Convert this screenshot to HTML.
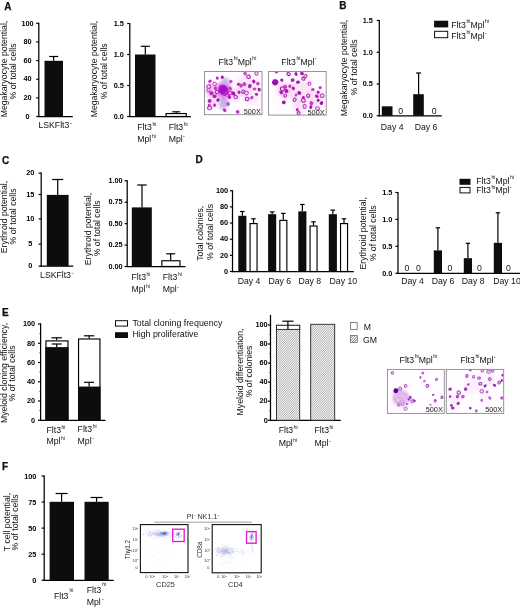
<!DOCTYPE html>
<html><head><meta charset="utf-8"><title>Figure</title>
<style>
html,body{margin:0;padding:0;background:#fff;}
svg{display:block;font-family:"Liberation Sans",Arial,sans-serif;}
</style></head><body>
<svg width="520" height="608" viewBox="0 0 520 608">
<defs>
<pattern id="hatch" width="1.45" height="1.45" patternUnits="userSpaceOnUse" patternTransform="rotate(33)">
<rect width="1.45" height="1.45" fill="#fff"/><line x1="0.4" y1="0" x2="0.4" y2="1.45" stroke="#555" stroke-width="0.5"/></pattern>
<filter id="bl1" x="-5%" y="-5%" width="110%" height="110%"><feGaussianBlur stdDeviation="0.45"/></filter>
<filter id="bl2" x="-10%" y="-10%" width="120%" height="120%"><feGaussianBlur stdDeviation="1.6"/></filter>
</defs>
<rect width="520" height="608" fill="#fff"/>
<text x="4.30" y="10.30" font-size="10" text-anchor="start" font-weight="bold" fill="#111" stroke="#111" stroke-width="0.25">A</text>
<text x="339.30" y="9.30" font-size="10" text-anchor="start" font-weight="bold" fill="#111" stroke="#111" stroke-width="0.25">B</text>
<text x="2.00" y="164.00" font-size="10" text-anchor="start" font-weight="bold" fill="#111" stroke="#111" stroke-width="0.25">C</text>
<text x="195.60" y="163.20" font-size="10" text-anchor="start" font-weight="bold" fill="#111" stroke="#111" stroke-width="0.25">D</text>
<text x="2.00" y="315.80" font-size="10" text-anchor="start" font-weight="bold" fill="#111" stroke="#111" stroke-width="0.25">E</text>
<text x="2.00" y="469.80" font-size="10" text-anchor="start" font-weight="bold" fill="#111" stroke="#111" stroke-width="0.25">F</text>
<line x1="38.80" y1="22.70" x2="38.80" y2="117.10" stroke="#000" stroke-width="1.25"/>
<line x1="38.20" y1="116.50" x2="72.80" y2="116.50" stroke="#000" stroke-width="1.25"/>
<line x1="36.20" y1="23.30" x2="38.80" y2="23.30" stroke="#000" stroke-width="1.2"/>
<text x="27.50" y="25.55" font-size="7.3" text-anchor="middle" font-weight="bold" fill="#000">100</text>
<line x1="36.20" y1="41.94" x2="38.80" y2="41.94" stroke="#000" stroke-width="1.2"/>
<text x="27.50" y="44.19" font-size="7.3" text-anchor="middle" font-weight="bold" fill="#000">80</text>
<line x1="36.20" y1="60.58" x2="38.80" y2="60.58" stroke="#000" stroke-width="1.2"/>
<text x="27.50" y="62.83" font-size="7.3" text-anchor="middle" font-weight="bold" fill="#000">60</text>
<line x1="36.20" y1="79.22" x2="38.80" y2="79.22" stroke="#000" stroke-width="1.2"/>
<text x="27.50" y="81.47" font-size="7.3" text-anchor="middle" font-weight="bold" fill="#000">40</text>
<line x1="36.20" y1="97.86" x2="38.80" y2="97.86" stroke="#000" stroke-width="1.2"/>
<text x="27.50" y="100.11" font-size="7.3" text-anchor="middle" font-weight="bold" fill="#000">20</text>
<line x1="36.20" y1="116.50" x2="38.80" y2="116.50" stroke="#000" stroke-width="1.2"/>
<text x="27.50" y="118.75" font-size="7.3" text-anchor="middle" font-weight="bold" fill="#000">0</text>
<rect x="44.50" y="60.80" width="18.50" height="55.70" fill="#0d0d0d" stroke="none" stroke-width="1"/>
<line x1="53.70" y1="60.80" x2="53.70" y2="56.50" stroke="#000" stroke-width="1.2"/>
<line x1="49.20" y1="56.50" x2="58.20" y2="56.50" stroke="#000" stroke-width="1.2"/>
<text x="55.20" y="128.00" font-size="8.7" text-anchor="middle" fill="#111">LSKFlt3<tspan font-size="6" dy="-3" dx="0.6">-</tspan></text>
<text transform="translate(7.30,69.00) rotate(-90)" font-size="8.7" text-anchor="middle" fill="#111">Megakaryocyte potential,</text>
<text transform="translate(16.30,71.50) rotate(-90)" font-size="8.7" text-anchor="middle" fill="#111">% of total cells</text>
<line x1="129.80" y1="22.90" x2="129.80" y2="117.10" stroke="#000" stroke-width="1.25"/>
<line x1="129.20" y1="116.50" x2="191.00" y2="116.50" stroke="#000" stroke-width="1.25"/>
<line x1="127.20" y1="23.50" x2="129.80" y2="23.50" stroke="#000" stroke-width="1.2"/>
<text x="123.80" y="25.75" font-size="7.3" text-anchor="end" font-weight="bold" fill="#000">1.5</text>
<line x1="127.20" y1="54.50" x2="129.80" y2="54.50" stroke="#000" stroke-width="1.2"/>
<text x="123.80" y="56.75" font-size="7.3" text-anchor="end" font-weight="bold" fill="#000">1.0</text>
<line x1="127.20" y1="85.50" x2="129.80" y2="85.50" stroke="#000" stroke-width="1.2"/>
<text x="123.80" y="87.75" font-size="7.3" text-anchor="end" font-weight="bold" fill="#000">0.5</text>
<line x1="127.20" y1="116.50" x2="129.80" y2="116.50" stroke="#000" stroke-width="1.2"/>
<text x="123.80" y="118.75" font-size="7.3" text-anchor="end" font-weight="bold" fill="#000">0.0</text>
<rect x="135.00" y="54.50" width="20.50" height="62.00" fill="#0d0d0d" stroke="none" stroke-width="1"/>
<line x1="145.30" y1="54.50" x2="145.30" y2="46.30" stroke="#000" stroke-width="1.2"/>
<line x1="140.80" y1="46.30" x2="149.80" y2="46.30" stroke="#000" stroke-width="1.2"/>
<rect x="166.05" y="113.55" width="20.20" height="2.95" fill="#fff" stroke="#000" stroke-width="1.15"/>
<line x1="176.20" y1="113.00" x2="176.20" y2="111.80" stroke="#000" stroke-width="1.2"/>
<line x1="172.20" y1="111.80" x2="180.20" y2="111.80" stroke="#000" stroke-width="1.2"/>
<text x="137.30" y="129.80" font-size="8.7" text-anchor="start" fill="#111">Flt3<tspan font-size="5.0" dy="-3.9" dx="0.6">hi</tspan></text>
<text x="137.30" y="142.00" font-size="8.7" text-anchor="start" fill="#111">Mpl<tspan font-size="5.0" dy="-3.9" dx="0.6">hi</tspan></text>
<text x="168.70" y="129.80" font-size="8.7" text-anchor="start" fill="#111">Flt3<tspan font-size="5.0" dy="-3.9" dx="0.6">hi</tspan></text>
<text x="168.70" y="142.00" font-size="8.7" text-anchor="start" fill="#111">Mpl<tspan font-size="5.5" dy="-3.6" dx="0.3">-</tspan></text>
<text transform="translate(97.30,69.00) rotate(-90)" font-size="8.7" text-anchor="middle" fill="#111">Megakaryocyte potential,</text>
<text transform="translate(107.30,71.30) rotate(-90)" font-size="8.7" text-anchor="middle" fill="#111">% of total cells</text>
<line x1="379.30" y1="19.90" x2="379.30" y2="116.35" stroke="#000" stroke-width="1.25"/>
<line x1="378.70" y1="115.75" x2="441.80" y2="115.75" stroke="#000" stroke-width="1.25"/>
<line x1="376.70" y1="20.50" x2="379.30" y2="20.50" stroke="#000" stroke-width="1.2"/>
<text x="372.80" y="22.75" font-size="7.3" text-anchor="end" font-weight="bold" fill="#000">1.5</text>
<line x1="376.70" y1="52.25" x2="379.30" y2="52.25" stroke="#000" stroke-width="1.2"/>
<text x="372.80" y="54.50" font-size="7.3" text-anchor="end" font-weight="bold" fill="#000">1.0</text>
<line x1="376.70" y1="84.00" x2="379.30" y2="84.00" stroke="#000" stroke-width="1.2"/>
<text x="372.80" y="86.25" font-size="7.3" text-anchor="end" font-weight="bold" fill="#000">0.5</text>
<line x1="376.70" y1="115.75" x2="379.30" y2="115.75" stroke="#000" stroke-width="1.2"/>
<text x="372.80" y="118.00" font-size="7.3" text-anchor="end" font-weight="bold" fill="#000">0.0</text>
<rect x="381.80" y="106.30" width="10.70" height="9.45" fill="#0d0d0d" stroke="none" stroke-width="1"/>
<rect x="413.20" y="94.20" width="10.60" height="21.55" fill="#0d0d0d" stroke="none" stroke-width="1"/>
<line x1="418.60" y1="94.20" x2="418.60" y2="73.00" stroke="#000" stroke-width="1.2"/>
<line x1="416.10" y1="73.00" x2="421.10" y2="73.00" stroke="#000" stroke-width="1.2"/>
<text x="400.70" y="113.80" font-size="8.7" text-anchor="middle" fill="#111">0</text>
<text x="434.20" y="113.80" font-size="8.7" text-anchor="middle" fill="#111">0</text>
<text x="392.20" y="129.80" font-size="8.7" text-anchor="middle" fill="#111">Day 4</text>
<text x="426.00" y="129.80" font-size="8.7" text-anchor="middle" fill="#111">Day 6</text>
<text transform="translate(347.30,68.00) rotate(-90)" font-size="8.7" text-anchor="middle" fill="#111">Megakaryocyte potential,</text>
<text transform="translate(356.80,67.50) rotate(-90)" font-size="8.7" text-anchor="middle" fill="#111">% of total cells</text>
<rect x="434.10" y="20.70" width="14.10" height="6.70" fill="#0d0d0d" stroke="none" stroke-width="1"/>
<rect x="434.60" y="31.30" width="13.10" height="6.40" fill="#fff" stroke="#0d0d0d" stroke-width="1"/>
<text x="451.30" y="27.60" font-size="8.7" text-anchor="start" fill="#111">Flt3<tspan font-size="5.2" dy="-4.7" dx="0.6">hi</tspan><tspan dy="4.7">Mpl</tspan><tspan font-size="5.2" dy="-4.7" dx="0.6">hi</tspan></text>
<text x="451.30" y="39.00" font-size="8.7" text-anchor="start" fill="#111">Flt3<tspan font-size="5.2" dy="-4.7" dx="0.6">hi</tspan><tspan dy="4.7">Mpl</tspan><tspan font-size="5.5" dy="-4.4" dx="0.3">-</tspan></text>
<clipPath id="c204_71"><rect x="204.5" y="71.5" width="57.5" height="43.2"/></clipPath>
<g clip-path="url(#c204_71)">
<rect x="204.50" y="71.50" width="57.50" height="43.20" fill="#fffbff" stroke="none" stroke-width="1"/>
<g filter="url(#bl2)">
<circle cx="223.5" cy="90.5" r="8.5" fill="#dd6fe2" opacity="0.85"/>
<circle cx="225.4" cy="81.6" r="4" fill="#c3aeea" opacity="0.85"/>
<circle cx="224.0" cy="103.0" r="5" fill="#bda6e8" opacity="0.95"/>
<circle cx="222.5" cy="106.0" r="3.5" fill="#c9b6ee" opacity="0.8"/>
<circle cx="213.0" cy="92.0" r="7" fill="#efa6ea" opacity="0.6"/>
<circle cx="212.0" cy="104.0" r="5" fill="#f2b9ee" opacity="0.55"/>
<circle cx="245.0" cy="87.0" r="10" fill="#f8d3f4" opacity="0.5"/>
<circle cx="252.0" cy="97.0" r="8" fill="#fadcf7" opacity="0.5"/>
<circle cx="236.0" cy="95.0" r="6" fill="#f4c2ef" opacity="0.5"/>
</g><g filter="url(#bl1)">
<ellipse cx="210.0" cy="81.2" rx="1.90" ry="1.51" transform="rotate(150 210.0 81.2)" fill="#c030c8"/>
<ellipse cx="217.3" cy="78.1" rx="1.70" ry="1.28" transform="rotate(72 217.3 78.1)" fill="#b41ebe"/>
<ellipse cx="222.3" cy="77.3" rx="1.70" ry="1.50" transform="rotate(107 222.3 77.3)" fill="#a418b0"/>
<ellipse cx="208.8" cy="86.6" rx="2.10" ry="1.87" transform="rotate(156 208.8 86.6)" fill="#f3cdf1" stroke="#c030c8" stroke-width="1"/>
<ellipse cx="214.6" cy="83.9" rx="1.90" ry="1.75" transform="rotate(32 214.6 83.9)" fill="#f3cdf1" stroke="#c845cf" stroke-width="1"/>
<ellipse cx="208.4" cy="90.1" rx="1.70" ry="1.68" transform="rotate(131 208.4 90.1)" fill="#f3cdf1" stroke="#c845cf" stroke-width="1"/>
<ellipse cx="211.5" cy="93.2" rx="2.10" ry="1.93" transform="rotate(167 211.5 93.2)" fill="#b41ebe"/>
<ellipse cx="214.6" cy="96.3" rx="2.10" ry="1.81" transform="rotate(13 214.6 96.3)" fill="#b41ebe"/>
<ellipse cx="209.6" cy="100.9" rx="1.90" ry="1.80" transform="rotate(174 209.6 100.9)" fill="#b41ebe"/>
<ellipse cx="209.2" cy="105.5" rx="1.70" ry="1.44" transform="rotate(100 209.2 105.5)" fill="#c030c8"/>
<ellipse cx="214.6" cy="105.2" rx="1.70" ry="1.32" transform="rotate(100 214.6 105.2)" fill="#b41ebe"/>
<ellipse cx="209.6" cy="107.9" rx="2.10" ry="1.79" transform="rotate(162 209.6 107.9)" fill="#f3cdf1" stroke="#c030c8" stroke-width="1"/>
<ellipse cx="224.6" cy="110.2" rx="2.10" ry="1.61" transform="rotate(48 224.6 110.2)" fill="#c030c8"/>
<ellipse cx="229.3" cy="97.0" rx="2.10" ry="1.81" transform="rotate(53 229.3 97.0)" fill="#b41ebe"/>
<ellipse cx="233.1" cy="93.2" rx="2.10" ry="1.75" transform="rotate(28 233.1 93.2)" fill="#c030c8"/>
<ellipse cx="230.0" cy="88.5" rx="2.10" ry="1.63" transform="rotate(13 230.0 88.5)" fill="#c845cf"/>
<ellipse cx="230.8" cy="81.6" rx="1.90" ry="1.50" transform="rotate(145 230.8 81.6)" fill="#c845cf"/>
<ellipse cx="215.4" cy="88.2" rx="1.70" ry="1.68" transform="rotate(25 215.4 88.2)" fill="#c030c8"/>
<ellipse cx="238.4" cy="84.2" rx="1.70" ry="1.29" transform="rotate(157 238.4 84.2)" fill="#b41ebe"/>
<ellipse cx="241.0" cy="85.6" rx="2.10" ry="1.90" transform="rotate(53 241.0 85.6)" fill="#c845cf"/>
<ellipse cx="244.4" cy="84.2" rx="2.10" ry="1.91" transform="rotate(38 244.4 84.2)" fill="#c845cf"/>
<ellipse cx="239.0" cy="92.3" rx="1.70" ry="1.53" transform="rotate(88 239.0 92.3)" fill="#b41ebe"/>
<ellipse cx="243.1" cy="91.6" rx="1.70" ry="1.33" transform="rotate(121 243.1 91.6)" fill="#f3cdf1" stroke="#a418b0" stroke-width="1"/>
<ellipse cx="246.4" cy="93.0" rx="1.90" ry="1.90" transform="rotate(124 246.4 93.0)" fill="#f3cdf1" stroke="#c845cf" stroke-width="1"/>
<ellipse cx="249.8" cy="86.2" rx="2.10" ry="1.83" transform="rotate(119 249.8 86.2)" fill="#b41ebe"/>
<ellipse cx="253.8" cy="81.5" rx="2.10" ry="1.62" transform="rotate(79 253.8 81.5)" fill="#a418b0"/>
<ellipse cx="257.9" cy="83.6" rx="1.90" ry="1.78" transform="rotate(26 257.9 83.6)" fill="#c845cf"/>
<ellipse cx="259.2" cy="89.6" rx="1.90" ry="1.65" transform="rotate(67 259.2 89.6)" fill="#b41ebe"/>
<ellipse cx="254.5" cy="88.9" rx="1.90" ry="1.50" transform="rotate(177 254.5 88.9)" fill="#c845cf"/>
<ellipse cx="256.5" cy="94.3" rx="1.70" ry="1.36" transform="rotate(5 256.5 94.3)" fill="#b41ebe"/>
<ellipse cx="251.8" cy="97.7" rx="1.90" ry="1.60" transform="rotate(135 251.8 97.7)" fill="#c845cf"/>
<ellipse cx="247.1" cy="99.0" rx="1.90" ry="1.68" transform="rotate(176 247.1 99.0)" fill="#f3cdf1" stroke="#a418b0" stroke-width="1"/>
<ellipse cx="248.5" cy="76.8" rx="1.90" ry="1.79" transform="rotate(6 248.5 76.8)" fill="#f3cdf1" stroke="#a418b0" stroke-width="1"/>
<ellipse cx="256.5" cy="73.5" rx="1.70" ry="1.69" transform="rotate(76 256.5 73.5)" fill="#f3cdf1" stroke="#c845cf" stroke-width="1"/>
<ellipse cx="237.7" cy="111.8" rx="1.90" ry="1.76" transform="rotate(23 237.7 111.8)" fill="#c030c8"/>
<ellipse cx="245.1" cy="73.5" rx="1.90" ry="1.67" transform="rotate(66 245.1 73.5)" fill="#c845cf"/>
<ellipse cx="235.7" cy="97.0" rx="1.90" ry="1.59" transform="rotate(42 235.7 97.0)" fill="#f3cdf1" stroke="#b41ebe" stroke-width="1"/>
<ellipse cx="233.6" cy="93.6" rx="1.90" ry="1.68" transform="rotate(57 233.6 93.6)" fill="#a418b0"/>
<ellipse cx="218.0" cy="100.0" rx="1.90" ry="1.58" transform="rotate(128 218.0 100.0)" fill="#a418b0"/>
<ellipse cx="228.0" cy="104.0" rx="1.90" ry="1.72" transform="rotate(57 228.0 104.0)" fill="#c845cf"/>
<ellipse cx="217.0" cy="92.0" rx="1.70" ry="1.62" transform="rotate(49 217.0 92.0)" fill="#f3cdf1" stroke="#b41ebe" stroke-width="1"/>
<ellipse cx="230.0" cy="93.0" rx="1.70" ry="1.59" transform="rotate(102 230.0 93.0)" fill="#f3cdf1" stroke="#c030c8" stroke-width="1"/>
<ellipse cx="223.5" cy="90.2" rx="6.00" ry="4.80" transform="rotate(58 223.5 90.2)" fill="#c024d2"/>
<ellipse cx="222.9" cy="89.8" rx="4.00" ry="3.36" transform="rotate(126 222.9 89.8)" fill="#a012c0"/>
</g></g>
<rect x="204.50" y="71.50" width="57.50" height="43.20" fill="none" stroke="#8a8a8a" stroke-width="0.9"/>
<text x="260.80" y="113.70" font-size="7.3" text-anchor="end" fill="#222">500X</text>
<clipPath id="c268_71"><rect x="268.4" y="71.5" width="57.8" height="43.6"/></clipPath>
<g clip-path="url(#c268_71)">
<rect x="268.40" y="71.50" width="57.80" height="43.60" fill="#fffcff" stroke="none" stroke-width="1"/>
<g filter="url(#bl2)">
<circle cx="300.0" cy="92.0" r="12" fill="#f8d3f4" opacity="0.55"/>
<circle cx="285.0" cy="90.0" r="8" fill="#f3bdee" opacity="0.5"/>
<circle cx="315.0" cy="98.0" r="8" fill="#f6c9f2" opacity="0.55"/>
<circle cx="300.0" cy="106.0" r="7" fill="#f5c4f1" opacity="0.45"/>
<circle cx="283.0" cy="92.0" r="5" fill="#efaaea" opacity="0.4"/>
</g><g filter="url(#bl1)">
<ellipse cx="276.4" cy="71.8" rx="1.60" ry="1.55" transform="rotate(27 276.4 71.8)" fill="#b41ebe"/>
<ellipse cx="288.6" cy="74.1" rx="1.80" ry="1.46" transform="rotate(14 288.6 74.1)" fill="#f3cdf1" stroke="#a818b2" stroke-width="1"/>
<ellipse cx="296.0" cy="74.1" rx="2.00" ry="1.52" transform="rotate(70 296.0 74.1)" fill="#a818b2"/>
<ellipse cx="302.0" cy="73.5" rx="2.00" ry="1.75" transform="rotate(25 302.0 73.5)" fill="#a818b2"/>
<ellipse cx="305.4" cy="76.2" rx="1.80" ry="1.36" transform="rotate(143 305.4 76.2)" fill="#f3cdf1" stroke="#b41ebe" stroke-width="1"/>
<ellipse cx="303.4" cy="78.8" rx="1.60" ry="1.38" transform="rotate(16 303.4 78.8)" fill="#f3cdf1" stroke="#a818b2" stroke-width="1"/>
<ellipse cx="281.8" cy="80.2" rx="1.60" ry="1.59" transform="rotate(156 281.8 80.2)" fill="#a818b2"/>
<ellipse cx="292.6" cy="80.2" rx="2.00" ry="1.76" transform="rotate(155 292.6 80.2)" fill="#b41ebe"/>
<ellipse cx="298.0" cy="82.2" rx="2.00" ry="1.64" transform="rotate(177 298.0 82.2)" fill="#a818b2"/>
<ellipse cx="309.4" cy="83.6" rx="1.60" ry="1.41" transform="rotate(130 309.4 83.6)" fill="#f3cdf1" stroke="#c238c8" stroke-width="1"/>
<ellipse cx="289.9" cy="86.2" rx="1.80" ry="1.58" transform="rotate(122 289.9 86.2)" fill="#c238c8"/>
<ellipse cx="293.3" cy="88.3" rx="1.80" ry="1.66" transform="rotate(63 293.3 88.3)" fill="#b41ebe"/>
<ellipse cx="282.5" cy="88.9" rx="2.00" ry="1.96" transform="rotate(66 282.5 88.9)" fill="#f3cdf1" stroke="#a818b2" stroke-width="1"/>
<ellipse cx="286.5" cy="91.0" rx="2.00" ry="1.92" transform="rotate(51 286.5 91.0)" fill="#a818b2"/>
<ellipse cx="281.2" cy="92.3" rx="2.00" ry="1.71" transform="rotate(35 281.2 92.3)" fill="#b41ebe"/>
<ellipse cx="285.2" cy="95.7" rx="1.60" ry="1.38" transform="rotate(100 285.2 95.7)" fill="#f3cdf1" stroke="#b41ebe" stroke-width="1"/>
<ellipse cx="299.3" cy="93.0" rx="2.00" ry="1.84" transform="rotate(18 299.3 93.0)" fill="#a818b2"/>
<ellipse cx="296.0" cy="95.0" rx="1.60" ry="1.23" transform="rotate(109 296.0 95.0)" fill="#c238c8"/>
<ellipse cx="312.8" cy="89.6" rx="1.80" ry="1.49" transform="rotate(171 312.8 89.6)" fill="#c238c8"/>
<ellipse cx="320.2" cy="87.6" rx="1.60" ry="1.56" transform="rotate(31 320.2 87.6)" fill="#c238c8"/>
<ellipse cx="318.2" cy="92.3" rx="1.60" ry="1.58" transform="rotate(39 318.2 92.3)" fill="#b41ebe"/>
<ellipse cx="322.2" cy="95.7" rx="2.00" ry="1.83" transform="rotate(164 322.2 95.7)" fill="#f3cdf1" stroke="#c238c8" stroke-width="1"/>
<ellipse cx="316.8" cy="96.3" rx="2.00" ry="1.63" transform="rotate(36 316.8 96.3)" fill="#b41ebe"/>
<ellipse cx="308.1" cy="95.7" rx="1.60" ry="1.59" transform="rotate(35 308.1 95.7)" fill="#f3cdf1" stroke="#b41ebe" stroke-width="1"/>
<ellipse cx="303.4" cy="97.7" rx="1.60" ry="1.50" transform="rotate(56 303.4 97.7)" fill="#a818b2"/>
<ellipse cx="303.4" cy="100.4" rx="2.00" ry="1.70" transform="rotate(24 303.4 100.4)" fill="#f3cdf1" stroke="#a818b2" stroke-width="1"/>
<ellipse cx="294.6" cy="99.7" rx="1.80" ry="1.42" transform="rotate(124 294.6 99.7)" fill="#f3cdf1" stroke="#b41ebe" stroke-width="1"/>
<ellipse cx="283.8" cy="102.4" rx="2.00" ry="1.92" transform="rotate(170 283.8 102.4)" fill="#a818b2"/>
<ellipse cx="311.4" cy="103.1" rx="2.00" ry="1.85" transform="rotate(41 311.4 103.1)" fill="#c238c8"/>
<ellipse cx="321.5" cy="103.1" rx="2.00" ry="1.70" transform="rotate(131 321.5 103.1)" fill="#a818b2"/>
<ellipse cx="310.8" cy="107.1" rx="2.00" ry="1.60" transform="rotate(107 310.8 107.1)" fill="#b41ebe"/>
<ellipse cx="304.7" cy="106.4" rx="2.00" ry="1.55" transform="rotate(81 304.7 106.4)" fill="#f3cdf1" stroke="#c238c8" stroke-width="1"/>
<ellipse cx="297.3" cy="109.8" rx="1.80" ry="1.36" transform="rotate(93 297.3 109.8)" fill="#b41ebe"/>
<ellipse cx="298.6" cy="113.2" rx="1.60" ry="1.38" transform="rotate(141 298.6 113.2)" fill="#f3cdf1" stroke="#b41ebe" stroke-width="1"/>
<ellipse cx="317.5" cy="108.5" rx="2.00" ry="1.69" transform="rotate(4 317.5 108.5)" fill="#f3cdf1" stroke="#c238c8" stroke-width="1"/>
<ellipse cx="318.2" cy="100.4" rx="1.60" ry="1.45" transform="rotate(132 318.2 100.4)" fill="#a818b2"/>
<ellipse cx="285.2" cy="86.9" rx="2.00" ry="1.98" transform="rotate(131 285.2 86.9)" fill="#c238c8"/>
<ellipse cx="275.2" cy="82.3" rx="3.10" ry="3.09" transform="rotate(28 275.2 82.3)" fill="#a010b4"/>
</g></g>
<rect x="268.40" y="71.50" width="57.80" height="43.60" fill="none" stroke="#8a8a8a" stroke-width="0.9"/>
<text x="324.60" y="114.60" font-size="7.3" text-anchor="end" fill="#222">500X</text>
<text x="237.50" y="64.60" font-size="8.7" text-anchor="middle" fill="#111">Flt3<tspan font-size="5.2" dy="-4.4" dx="0.6">hi</tspan><tspan dy="4.4">Mpl</tspan><tspan font-size="5.2" dy="-4.4" dx="0.6">hi</tspan></text>
<text x="299.00" y="64.60" font-size="8.7" text-anchor="middle" fill="#111">Flt3<tspan font-size="5.2" dy="-4.4" dx="0.6">hi</tspan><tspan dy="4.4">Mpl</tspan><tspan font-size="5.5" dy="-4.2" dx="0.3">-</tspan></text>
<line x1="41.20" y1="172.50" x2="41.20" y2="266.80" stroke="#000" stroke-width="1.25"/>
<line x1="40.60" y1="266.20" x2="73.30" y2="266.20" stroke="#000" stroke-width="1.25"/>
<line x1="38.60" y1="173.10" x2="41.20" y2="173.10" stroke="#000" stroke-width="1.2"/>
<text x="30.20" y="175.35" font-size="7.3" text-anchor="middle" font-weight="bold" fill="#000">20</text>
<line x1="38.60" y1="194.50" x2="41.20" y2="194.50" stroke="#000" stroke-width="1.2"/>
<text x="30.20" y="196.75" font-size="7.3" text-anchor="middle" font-weight="bold" fill="#000">15</text>
<line x1="38.60" y1="218.90" x2="41.20" y2="218.90" stroke="#000" stroke-width="1.2"/>
<text x="30.20" y="221.15" font-size="7.3" text-anchor="middle" font-weight="bold" fill="#000">10</text>
<line x1="38.60" y1="244.20" x2="41.20" y2="244.20" stroke="#000" stroke-width="1.2"/>
<text x="30.20" y="246.45" font-size="7.3" text-anchor="middle" font-weight="bold" fill="#000">5</text>
<line x1="38.60" y1="266.20" x2="41.20" y2="266.20" stroke="#000" stroke-width="1.2"/>
<text x="30.20" y="268.45" font-size="7.3" text-anchor="middle" font-weight="bold" fill="#000">0</text>
<rect x="46.80" y="194.90" width="21.80" height="71.30" fill="#0d0d0d" stroke="none" stroke-width="1"/>
<line x1="57.70" y1="194.90" x2="57.70" y2="179.50" stroke="#000" stroke-width="1.2"/>
<line x1="52.20" y1="179.50" x2="63.20" y2="179.50" stroke="#000" stroke-width="1.2"/>
<text x="56.80" y="278.20" font-size="8.7" text-anchor="middle" fill="#111">LSKFlt3<tspan font-size="6" dy="-3" dx="0.6">-</tspan></text>
<text transform="translate(7.00,217.00) rotate(-90)" font-size="8.7" text-anchor="middle" fill="#111">Erythroid potential,</text>
<text transform="translate(16.20,216.50) rotate(-90)" font-size="8.7" text-anchor="middle" fill="#111">% of total cells</text>
<line x1="127.20" y1="180.20" x2="127.20" y2="267.10" stroke="#000" stroke-width="1.25"/>
<line x1="126.60" y1="266.50" x2="185.50" y2="266.50" stroke="#000" stroke-width="1.25"/>
<line x1="124.60" y1="180.80" x2="127.20" y2="180.80" stroke="#000" stroke-width="1.2"/>
<text x="122.60" y="183.05" font-size="7.3" text-anchor="end" font-weight="bold" fill="#000">1.00</text>
<line x1="124.60" y1="202.23" x2="127.20" y2="202.23" stroke="#000" stroke-width="1.2"/>
<text x="122.60" y="204.48" font-size="7.3" text-anchor="end" font-weight="bold" fill="#000">0.75</text>
<line x1="124.60" y1="223.66" x2="127.20" y2="223.66" stroke="#000" stroke-width="1.2"/>
<text x="122.60" y="225.91" font-size="7.3" text-anchor="end" font-weight="bold" fill="#000">0.50</text>
<line x1="124.60" y1="245.09" x2="127.20" y2="245.09" stroke="#000" stroke-width="1.2"/>
<text x="122.60" y="247.34" font-size="7.3" text-anchor="end" font-weight="bold" fill="#000">0.25</text>
<line x1="124.60" y1="266.52" x2="127.20" y2="266.52" stroke="#000" stroke-width="1.2"/>
<text x="122.60" y="268.77" font-size="7.3" text-anchor="end" font-weight="bold" fill="#000">0.00</text>
<rect x="131.80" y="207.40" width="20.00" height="59.10" fill="#0d0d0d" stroke="none" stroke-width="1"/>
<line x1="142.00" y1="207.40" x2="142.00" y2="185.00" stroke="#000" stroke-width="1.2"/>
<line x1="137.25" y1="185.00" x2="146.75" y2="185.00" stroke="#000" stroke-width="1.2"/>
<rect x="161.85" y="260.75" width="18.10" height="5.75" fill="#fff" stroke="#000" stroke-width="1.15"/>
<line x1="170.70" y1="260.20" x2="170.70" y2="253.80" stroke="#000" stroke-width="1.2"/>
<line x1="166.20" y1="253.80" x2="175.20" y2="253.80" stroke="#000" stroke-width="1.2"/>
<text x="131.50" y="279.90" font-size="8.7" text-anchor="start" fill="#111">Flt3<tspan font-size="5.0" dy="-3.9" dx="0.6">hi</tspan></text>
<text x="131.50" y="292.10" font-size="8.7" text-anchor="start" fill="#111">Mpl<tspan font-size="5.0" dy="-3.9" dx="0.6">hi</tspan></text>
<text x="162.80" y="279.90" font-size="8.7" text-anchor="start" fill="#111">Flt3<tspan font-size="5.0" dy="-3.9" dx="0.6">hi</tspan></text>
<text x="162.80" y="292.10" font-size="8.7" text-anchor="start" fill="#111">Mpl<tspan font-size="5.5" dy="-3.6" dx="0.3">-</tspan></text>
<text transform="translate(91.20,229.00) rotate(-90)" font-size="8.7" text-anchor="middle" fill="#111">Erythroid potential,</text>
<text transform="translate(100.30,228.30) rotate(-90)" font-size="8.7" text-anchor="middle" fill="#111">% of total cells</text>
<line x1="232.50" y1="190.15" x2="232.50" y2="272.10" stroke="#000" stroke-width="1.25"/>
<line x1="231.90" y1="271.50" x2="353.80" y2="271.50" stroke="#000" stroke-width="1.25"/>
<line x1="229.90" y1="190.75" x2="232.50" y2="190.75" stroke="#000" stroke-width="1.2"/>
<text x="228.10" y="193.00" font-size="7.3" text-anchor="end" font-weight="bold" fill="#000">100</text>
<line x1="229.90" y1="206.90" x2="232.50" y2="206.90" stroke="#000" stroke-width="1.2"/>
<text x="228.10" y="209.15" font-size="7.3" text-anchor="end" font-weight="bold" fill="#000">80</text>
<line x1="229.90" y1="223.05" x2="232.50" y2="223.05" stroke="#000" stroke-width="1.2"/>
<text x="228.10" y="225.30" font-size="7.3" text-anchor="end" font-weight="bold" fill="#000">60</text>
<line x1="229.90" y1="239.20" x2="232.50" y2="239.20" stroke="#000" stroke-width="1.2"/>
<text x="228.10" y="241.45" font-size="7.3" text-anchor="end" font-weight="bold" fill="#000">40</text>
<line x1="229.90" y1="255.35" x2="232.50" y2="255.35" stroke="#000" stroke-width="1.2"/>
<text x="228.10" y="257.60" font-size="7.3" text-anchor="end" font-weight="bold" fill="#000">20</text>
<line x1="229.90" y1="271.50" x2="232.50" y2="271.50" stroke="#000" stroke-width="1.2"/>
<text x="228.10" y="273.75" font-size="7.3" text-anchor="end" font-weight="bold" fill="#000">0</text>
<rect x="238.30" y="215.78" width="8.10" height="55.72" fill="#0d0d0d" stroke="none" stroke-width="1"/>
<line x1="242.35" y1="215.78" x2="242.35" y2="211.50" stroke="#000" stroke-width="1.2"/>
<line x1="240.05" y1="211.50" x2="244.65" y2="211.50" stroke="#000" stroke-width="1.2"/>
<rect x="250.05" y="223.60" width="7.00" height="47.90" fill="#fff" stroke="#000" stroke-width="1.15"/>
<line x1="253.50" y1="223.05" x2="253.50" y2="218.77" stroke="#000" stroke-width="1.2"/>
<line x1="251.20" y1="218.77" x2="255.80" y2="218.77" stroke="#000" stroke-width="1.2"/>
<rect x="268.10" y="214.17" width="8.10" height="57.33" fill="#0d0d0d" stroke="none" stroke-width="1"/>
<line x1="272.15" y1="214.17" x2="272.15" y2="211.91" stroke="#000" stroke-width="1.2"/>
<line x1="269.85" y1="211.91" x2="274.45" y2="211.91" stroke="#000" stroke-width="1.2"/>
<rect x="279.85" y="220.37" width="7.00" height="51.13" fill="#fff" stroke="#000" stroke-width="1.15"/>
<line x1="283.30" y1="219.82" x2="283.30" y2="213.36" stroke="#000" stroke-width="1.2"/>
<line x1="281.00" y1="213.36" x2="285.60" y2="213.36" stroke="#000" stroke-width="1.2"/>
<rect x="298.30" y="211.34" width="8.10" height="60.16" fill="#0d0d0d" stroke="none" stroke-width="1"/>
<line x1="302.35" y1="211.34" x2="302.35" y2="204.48" stroke="#000" stroke-width="1.2"/>
<line x1="300.05" y1="204.48" x2="304.65" y2="204.48" stroke="#000" stroke-width="1.2"/>
<rect x="310.05" y="226.02" width="7.00" height="45.48" fill="#fff" stroke="#000" stroke-width="1.15"/>
<line x1="313.50" y1="225.47" x2="313.50" y2="221.84" stroke="#000" stroke-width="1.2"/>
<line x1="311.20" y1="221.84" x2="315.80" y2="221.84" stroke="#000" stroke-width="1.2"/>
<rect x="328.80" y="214.17" width="8.10" height="57.33" fill="#0d0d0d" stroke="none" stroke-width="1"/>
<line x1="332.85" y1="214.17" x2="332.85" y2="210.13" stroke="#000" stroke-width="1.2"/>
<line x1="330.55" y1="210.13" x2="335.15" y2="210.13" stroke="#000" stroke-width="1.2"/>
<rect x="340.55" y="223.60" width="7.00" height="47.90" fill="#fff" stroke="#000" stroke-width="1.15"/>
<line x1="344.00" y1="223.05" x2="344.00" y2="218.77" stroke="#000" stroke-width="1.2"/>
<line x1="341.70" y1="218.77" x2="346.30" y2="218.77" stroke="#000" stroke-width="1.2"/>
<text x="249.00" y="283.60" font-size="8.7" text-anchor="middle" fill="#111">Day 4</text>
<text x="279.80" y="283.60" font-size="8.7" text-anchor="middle" fill="#111">Day 6</text>
<text x="309.80" y="283.60" font-size="8.7" text-anchor="middle" fill="#111">Day 8</text>
<text x="343.30" y="283.60" font-size="8.7" text-anchor="middle" fill="#111">Day 10</text>
<text transform="translate(203.20,233.30) rotate(-90)" font-size="8.7" text-anchor="middle" fill="#111">Total colonies,</text>
<text transform="translate(213.00,232.00) rotate(-90)" font-size="8.7" text-anchor="middle" fill="#111">% of total cells</text>
<line x1="398.00" y1="191.90" x2="398.00" y2="273.85" stroke="#000" stroke-width="1.25"/>
<line x1="397.40" y1="273.25" x2="520.00" y2="273.25" stroke="#000" stroke-width="1.25"/>
<line x1="395.40" y1="192.50" x2="398.00" y2="192.50" stroke="#000" stroke-width="1.2"/>
<text x="392.40" y="194.75" font-size="7.3" text-anchor="end" font-weight="bold" fill="#000">1.5</text>
<line x1="395.40" y1="219.42" x2="398.00" y2="219.42" stroke="#000" stroke-width="1.2"/>
<text x="392.40" y="221.67" font-size="7.3" text-anchor="end" font-weight="bold" fill="#000">1.0</text>
<line x1="395.40" y1="246.34" x2="398.00" y2="246.34" stroke="#000" stroke-width="1.2"/>
<text x="392.40" y="248.59" font-size="7.3" text-anchor="end" font-weight="bold" fill="#000">0.5</text>
<line x1="395.40" y1="273.26" x2="398.00" y2="273.26" stroke="#000" stroke-width="1.2"/>
<text x="392.40" y="275.51" font-size="7.3" text-anchor="end" font-weight="bold" fill="#000">0.0</text>
<rect x="433.80" y="250.40" width="8.20" height="22.85" fill="#0d0d0d" stroke="none" stroke-width="1"/>
<line x1="437.90" y1="250.40" x2="437.90" y2="227.80" stroke="#000" stroke-width="1.2"/>
<line x1="435.70" y1="227.80" x2="440.10" y2="227.80" stroke="#000" stroke-width="1.2"/>
<rect x="463.80" y="258.20" width="8.20" height="15.05" fill="#0d0d0d" stroke="none" stroke-width="1"/>
<line x1="467.90" y1="258.20" x2="467.90" y2="243.30" stroke="#000" stroke-width="1.2"/>
<line x1="465.70" y1="243.30" x2="470.10" y2="243.30" stroke="#000" stroke-width="1.2"/>
<rect x="493.80" y="242.80" width="8.20" height="30.45" fill="#0d0d0d" stroke="none" stroke-width="1"/>
<line x1="497.90" y1="242.80" x2="497.90" y2="212.80" stroke="#000" stroke-width="1.2"/>
<line x1="495.70" y1="212.80" x2="500.10" y2="212.80" stroke="#000" stroke-width="1.2"/>
<text x="406.90" y="271.00" font-size="8.7" text-anchor="middle" fill="#111">0</text>
<text x="418.30" y="271.00" font-size="8.7" text-anchor="middle" fill="#111">0</text>
<text x="450.00" y="271.00" font-size="8.7" text-anchor="middle" fill="#111">0</text>
<text x="479.30" y="271.00" font-size="8.7" text-anchor="middle" fill="#111">0</text>
<text x="508.30" y="271.00" font-size="8.7" text-anchor="middle" fill="#111">0</text>
<text x="412.50" y="284.00" font-size="8.7" text-anchor="middle" fill="#111">Day 4</text>
<text x="443.00" y="284.00" font-size="8.7" text-anchor="middle" fill="#111">Day 6</text>
<text x="473.20" y="284.00" font-size="8.7" text-anchor="middle" fill="#111">Day 8</text>
<text x="507.00" y="284.00" font-size="8.7" text-anchor="middle" fill="#111">Day 10</text>
<text transform="translate(366.40,233.30) rotate(-90)" font-size="8.7" text-anchor="middle" fill="#111">Erythroid potential,</text>
<text transform="translate(375.70,233.30) rotate(-90)" font-size="8.7" text-anchor="middle" fill="#111">% of total cells</text>
<rect x="459.50" y="178.80" width="11.00" height="6.00" fill="#0d0d0d" stroke="none" stroke-width="1"/>
<rect x="460.00" y="187.40" width="10.00" height="5.50" fill="#fff" stroke="#0d0d0d" stroke-width="1"/>
<text x="476.30" y="183.70" font-size="8.7" text-anchor="start" fill="#111">Flt3<tspan font-size="5.2" dy="-4.7" dx="0.6">hi</tspan><tspan dy="4.7">Mpl</tspan><tspan font-size="5.2" dy="-4.7" dx="0.6">hi</tspan></text>
<text x="476.30" y="193.40" font-size="8.7" text-anchor="start" fill="#111">Flt3<tspan font-size="5.2" dy="-4.7" dx="0.6">hi</tspan><tspan dy="4.7">Mpl</tspan><tspan font-size="5.5" dy="-4.4" dx="0.3">-</tspan></text>
<line x1="40.60" y1="323.40" x2="40.60" y2="420.85" stroke="#000" stroke-width="1.25"/>
<line x1="40.00" y1="420.25" x2="105.50" y2="420.25" stroke="#000" stroke-width="1.25"/>
<line x1="38.00" y1="324.00" x2="40.60" y2="324.00" stroke="#000" stroke-width="1.2"/>
<text x="35.10" y="326.25" font-size="7.3" text-anchor="end" font-weight="bold" fill="#000">100</text>
<line x1="38.00" y1="343.25" x2="40.60" y2="343.25" stroke="#000" stroke-width="1.2"/>
<text x="35.10" y="345.50" font-size="7.3" text-anchor="end" font-weight="bold" fill="#000">80</text>
<line x1="38.00" y1="362.50" x2="40.60" y2="362.50" stroke="#000" stroke-width="1.2"/>
<text x="35.10" y="364.75" font-size="7.3" text-anchor="end" font-weight="bold" fill="#000">60</text>
<line x1="38.00" y1="381.75" x2="40.60" y2="381.75" stroke="#000" stroke-width="1.2"/>
<text x="35.10" y="384.00" font-size="7.3" text-anchor="end" font-weight="bold" fill="#000">40</text>
<line x1="38.00" y1="401.00" x2="40.60" y2="401.00" stroke="#000" stroke-width="1.2"/>
<text x="35.10" y="403.25" font-size="7.3" text-anchor="end" font-weight="bold" fill="#000">20</text>
<line x1="38.00" y1="420.25" x2="40.60" y2="420.25" stroke="#000" stroke-width="1.2"/>
<text x="35.10" y="422.50" font-size="7.3" text-anchor="end" font-weight="bold" fill="#000">0</text>
<line x1="39.30" y1="333.62" x2="40.60" y2="333.62" stroke="#333" stroke-width="0.8"/>
<line x1="39.30" y1="352.88" x2="40.60" y2="352.88" stroke="#333" stroke-width="0.8"/>
<line x1="39.30" y1="372.12" x2="40.60" y2="372.12" stroke="#333" stroke-width="0.8"/>
<line x1="39.30" y1="391.38" x2="40.60" y2="391.38" stroke="#333" stroke-width="0.8"/>
<line x1="39.30" y1="410.62" x2="40.60" y2="410.62" stroke="#333" stroke-width="0.8"/>
<rect x="45.95" y="340.91" width="22.00" height="79.34" fill="#fff" stroke="#000" stroke-width="1.15"/>
<rect x="45.40" y="347.10" width="23.10" height="73.15" fill="#0d0d0d" stroke="none" stroke-width="1"/>
<line x1="56.70" y1="340.36" x2="56.70" y2="337.80" stroke="#000" stroke-width="1.2"/>
<line x1="51.45" y1="337.80" x2="61.95" y2="337.80" stroke="#000" stroke-width="1.2"/>
<line x1="56.70" y1="347.10" x2="56.70" y2="344.00" stroke="#000" stroke-width="1.2"/>
<line x1="51.70" y1="344.00" x2="61.70" y2="344.00" stroke="#000" stroke-width="1.2"/>
<rect x="78.55" y="338.99" width="21.40" height="81.26" fill="#fff" stroke="#000" stroke-width="1.15"/>
<rect x="78.00" y="386.56" width="22.50" height="33.69" fill="#0d0d0d" stroke="none" stroke-width="1"/>
<line x1="89.10" y1="338.44" x2="89.10" y2="335.80" stroke="#000" stroke-width="1.2"/>
<line x1="83.85" y1="335.80" x2="94.35" y2="335.80" stroke="#000" stroke-width="1.2"/>
<line x1="89.10" y1="386.56" x2="89.10" y2="382.30" stroke="#000" stroke-width="1.2"/>
<line x1="84.10" y1="382.30" x2="94.10" y2="382.30" stroke="#000" stroke-width="1.2"/>
<text x="46.50" y="432.70" font-size="8.7" text-anchor="start" fill="#111">Flt3<tspan font-size="5.0" dy="-3.9" dx="0.6">hi</tspan></text>
<text x="46.50" y="444.00" font-size="8.7" text-anchor="start" fill="#111">Mpl<tspan font-size="5.0" dy="-3.9" dx="0.6">hi</tspan></text>
<text x="77.60" y="432.30" font-size="8.7" text-anchor="start" fill="#111">Flt3<tspan font-size="5.0" dy="-3.9" dx="0.6">hi</tspan></text>
<text x="77.60" y="443.70" font-size="8.7" text-anchor="start" fill="#111">Mpl<tspan font-size="5.5" dy="-3.6" dx="0.3">-</tspan></text>
<text transform="translate(7.00,373.00) rotate(-90)" font-size="8.7" text-anchor="middle" fill="#111">Myeloid cloning efficiency,</text>
<text transform="translate(15.30,373.50) rotate(-90)" font-size="8.7" text-anchor="middle" fill="#111">% of total cells</text>
<rect x="115.50" y="320.70" width="12.00" height="5.40" fill="#fff" stroke="#0d0d0d" stroke-width="1"/>
<rect x="115.00" y="332.20" width="13.00" height="5.80" fill="#0d0d0d" stroke="none" stroke-width="1"/>
<text x="132.40" y="326.20" font-size="8.8" text-anchor="start" fill="#111">Total cloning frequency</text>
<text x="132.40" y="337.40" font-size="8.8" text-anchor="start" fill="#111">High proliferative</text>
<line x1="270.50" y1="314.85" x2="270.50" y2="420.85" stroke="#000" stroke-width="1.25"/>
<line x1="269.90" y1="420.25" x2="340.80" y2="420.25" stroke="#000" stroke-width="1.25"/>
<line x1="267.90" y1="324.95" x2="270.50" y2="324.95" stroke="#000" stroke-width="1.2"/>
<text x="267.70" y="327.20" font-size="7.3" text-anchor="end" font-weight="bold" fill="#000">100</text>
<line x1="267.90" y1="344.01" x2="270.50" y2="344.01" stroke="#000" stroke-width="1.2"/>
<text x="267.70" y="346.26" font-size="7.3" text-anchor="end" font-weight="bold" fill="#000">80</text>
<line x1="267.90" y1="363.07" x2="270.50" y2="363.07" stroke="#000" stroke-width="1.2"/>
<text x="267.70" y="365.32" font-size="7.3" text-anchor="end" font-weight="bold" fill="#000">60</text>
<line x1="267.90" y1="382.13" x2="270.50" y2="382.13" stroke="#000" stroke-width="1.2"/>
<text x="267.70" y="384.38" font-size="7.3" text-anchor="end" font-weight="bold" fill="#000">40</text>
<line x1="267.90" y1="401.19" x2="270.50" y2="401.19" stroke="#000" stroke-width="1.2"/>
<text x="267.70" y="403.44" font-size="7.3" text-anchor="end" font-weight="bold" fill="#000">20</text>
<line x1="267.90" y1="420.25" x2="270.50" y2="420.25" stroke="#000" stroke-width="1.2"/>
<text x="267.70" y="422.50" font-size="7.3" text-anchor="end" font-weight="bold" fill="#000">0</text>
<line x1="269.20" y1="334.48" x2="270.50" y2="334.48" stroke="#333" stroke-width="0.8"/>
<line x1="269.20" y1="353.54" x2="270.50" y2="353.54" stroke="#333" stroke-width="0.8"/>
<line x1="269.20" y1="372.60" x2="270.50" y2="372.60" stroke="#333" stroke-width="0.8"/>
<line x1="269.20" y1="391.66" x2="270.50" y2="391.66" stroke="#333" stroke-width="0.8"/>
<line x1="269.20" y1="410.72" x2="270.50" y2="410.72" stroke="#333" stroke-width="0.8"/>
<clipPath id="h2765_3253"><rect x="276.5" y="325.3" width="23.2" height="94.94999999999999"/></clipPath>
<rect x="276.50" y="325.30" width="23.20" height="94.95" fill="#fff" stroke="none" stroke-width="1"/>
<path clip-path="url(#h2765_3253)" d="M192.50 420.25L276.50 325.30M194.62 420.25L278.62 325.30M196.74 420.25L280.74 325.30M198.86 420.25L282.86 325.30M200.98 420.25L284.98 325.30M203.10 420.25L287.10 325.30M205.22 420.25L289.22 325.30M207.34 420.25L291.34 325.30M209.46 420.25L293.46 325.30M211.58 420.25L295.58 325.30M213.70 420.25L297.70 325.30M215.82 420.25L299.82 325.30M217.94 420.25L301.94 325.30M220.06 420.25L304.06 325.30M222.18 420.25L306.18 325.30M224.30 420.25L308.30 325.30M226.42 420.25L310.42 325.30M228.54 420.25L312.54 325.30M230.66 420.25L314.66 325.30M232.78 420.25L316.78 325.30M234.90 420.25L318.90 325.30M237.02 420.25L321.02 325.30M239.14 420.25L323.14 325.30M241.26 420.25L325.26 325.30M243.38 420.25L327.38 325.30M245.50 420.25L329.50 325.30M247.62 420.25L331.62 325.30M249.74 420.25L333.74 325.30M251.86 420.25L335.86 325.30M253.98 420.25L337.98 325.30M256.10 420.25L340.10 325.30M258.22 420.25L342.22 325.30M260.34 420.25L344.34 325.30M262.46 420.25L346.46 325.30M264.58 420.25L348.58 325.30M266.70 420.25L350.70 325.30M268.82 420.25L352.82 325.30M270.94 420.25L354.94 325.30M273.06 420.25L357.06 325.30M275.18 420.25L359.18 325.30M277.30 420.25L361.30 325.30M279.42 420.25L363.42 325.30M281.54 420.25L365.54 325.30M283.66 420.25L367.66 325.30M285.78 420.25L369.78 325.30M287.90 420.25L371.90 325.30M290.02 420.25L374.02 325.30M292.14 420.25L376.14 325.30M294.26 420.25L378.26 325.30M296.38 420.25L380.38 325.30M298.50 420.25L382.50 325.30" stroke="#505050" stroke-width="0.5" fill="none"/>
<rect x="276.50" y="325.30" width="23.20" height="94.95" fill="none" stroke="#222" stroke-width="0.9"/>
<rect x="276.50" y="325.30" width="23.20" height="4.10" fill="#fff" stroke="#222" stroke-width="0.9"/>
<line x1="287.90" y1="329.30" x2="287.90" y2="321.20" stroke="#000" stroke-width="1.2"/>
<line x1="282.30" y1="321.20" x2="293.50" y2="321.20" stroke="#000" stroke-width="1.2"/>
<clipPath id="h3107_3243"><rect x="310.7" y="324.3" width="24" height="95.94999999999999"/></clipPath>
<rect x="310.70" y="324.30" width="24.00" height="95.95" fill="#fff" stroke="none" stroke-width="1"/>
<path clip-path="url(#h3107_3243)" d="M225.81 420.25L310.70 324.30M227.93 420.25L312.82 324.30M230.05 420.25L314.94 324.30M232.17 420.25L317.06 324.30M234.29 420.25L319.18 324.30M236.41 420.25L321.30 324.30M238.53 420.25L323.42 324.30M240.65 420.25L325.54 324.30M242.77 420.25L327.66 324.30M244.89 420.25L329.78 324.30M247.01 420.25L331.90 324.30M249.13 420.25L334.02 324.30M251.25 420.25L336.14 324.30M253.37 420.25L338.26 324.30M255.49 420.25L340.38 324.30M257.61 420.25L342.50 324.30M259.73 420.25L344.62 324.30M261.85 420.25L346.74 324.30M263.97 420.25L348.86 324.30M266.09 420.25L350.98 324.30M268.21 420.25L353.10 324.30M270.33 420.25L355.22 324.30M272.45 420.25L357.34 324.30M274.57 420.25L359.46 324.30M276.69 420.25L361.58 324.30M278.81 420.25L363.70 324.30M280.93 420.25L365.82 324.30M283.05 420.25L367.94 324.30M285.17 420.25L370.06 324.30M287.29 420.25L372.18 324.30M289.41 420.25L374.30 324.30M291.53 420.25L376.42 324.30M293.65 420.25L378.54 324.30M295.77 420.25L380.66 324.30M297.89 420.25L382.78 324.30M300.01 420.25L384.90 324.30M302.13 420.25L387.02 324.30M304.25 420.25L389.14 324.30M306.37 420.25L391.26 324.30M308.49 420.25L393.38 324.30M310.61 420.25L395.50 324.30M312.73 420.25L397.62 324.30M314.85 420.25L399.74 324.30M316.97 420.25L401.86 324.30M319.09 420.25L403.98 324.30M321.21 420.25L406.10 324.30M323.33 420.25L408.22 324.30M325.45 420.25L410.34 324.30M327.57 420.25L412.46 324.30M329.69 420.25L414.58 324.30M331.81 420.25L416.70 324.30M333.93 420.25L418.82 324.30" stroke="#505050" stroke-width="0.5" fill="none"/>
<rect x="310.70" y="324.30" width="24.00" height="95.95" fill="none" stroke="#222" stroke-width="0.9"/>
<text x="278.70" y="433.10" font-size="8.7" text-anchor="start" fill="#111">Flt3<tspan font-size="5.0" dy="-3.9" dx="0.6">hi</tspan></text>
<text x="278.70" y="446.30" font-size="8.7" text-anchor="start" fill="#111">Mpl<tspan font-size="5.0" dy="-3.9" dx="0.6">hi</tspan></text>
<text x="314.50" y="433.10" font-size="8.7" text-anchor="start" fill="#111">Flt3<tspan font-size="5.0" dy="-3.9" dx="0.6">hi</tspan></text>
<text x="314.50" y="446.30" font-size="8.7" text-anchor="start" fill="#111">Mpl<tspan font-size="5.5" dy="-3.6" dx="0.3">-</tspan></text>
<text transform="translate(243.00,372.00) rotate(-90)" font-size="8.7" text-anchor="middle" fill="#111">Myeloid differentiation,</text>
<text transform="translate(251.60,371.50) rotate(-90)" font-size="8.7" text-anchor="middle" fill="#111">% of colonies</text>
<rect x="350.50" y="322.60" width="6.70" height="6.90" fill="#fff" stroke="#666" stroke-width="0.8"/>
<clipPath id="h3505_3356"><rect x="350.5" y="335.6" width="6.7" height="6.9"/></clipPath>
<rect x="350.50" y="335.60" width="6.70" height="6.90" fill="#fff" stroke="none" stroke-width="1"/>
<path clip-path="url(#h3505_3356)" d="M344.07 342.50L350.50 335.60M346.57 342.50L353.00 335.60M349.07 342.50L355.50 335.60M351.57 342.50L358.00 335.60M354.07 342.50L360.50 335.60M356.57 342.50L363.00 335.60" stroke="#555" stroke-width="0.7" fill="none"/>
<rect x="350.50" y="335.60" width="6.70" height="6.90" fill="none" stroke="#666" stroke-width="0.8"/>
<text x="363.80" y="329.80" font-size="8.7" text-anchor="start" fill="#111">M</text>
<text x="363.00" y="343.20" font-size="8.7" text-anchor="start" fill="#111">GM</text>
<clipPath id="c387_369"><rect x="387.4" y="369.4" width="56.9" height="44"/></clipPath>
<g clip-path="url(#c387_369)">
<rect x="387.40" y="369.40" width="56.90" height="44.00" fill="#fffdff" stroke="none" stroke-width="1"/>
<g filter="url(#bl2)">
<circle cx="400.8" cy="397.8" r="8.6" fill="#e8c2f0" opacity="1"/>
<circle cx="400.8" cy="397.8" r="8.6" fill="#e8c2f0" opacity="1"/>
<circle cx="400.0" cy="399.0" r="5" fill="#e2b4ec" opacity="0.55"/>
<circle cx="410.0" cy="400.5" r="3.6" fill="#eccaf2" opacity="0.8"/>
</g><g filter="url(#bl1)">
<ellipse cx="400.8" cy="397.8" rx="7.80" ry="6.20" transform="rotate(172 400.8 397.8)" fill="#e4b9ed"/>
<ellipse cx="398.0" cy="400.0" rx="2.20" ry="2.09" transform="rotate(88 398.0 400.0)" fill="#f3cdf1" stroke="#d9a6e6" stroke-width="1"/>
<ellipse cx="403.0" cy="396.0" rx="2.00" ry="1.52" transform="rotate(64 403.0 396.0)" fill="#f3cdf1" stroke="#dcaee8" stroke-width="1"/>
<ellipse cx="402.0" cy="402.0" rx="1.80" ry="1.68" transform="rotate(4 402.0 402.0)" fill="#f3cdf1" stroke="#d39ce2" stroke-width="1"/>
<ellipse cx="392.4" cy="372.8" rx="1.30" ry="1.29" transform="rotate(141 392.4 372.8)" fill="#f3cdf1" stroke="#b95ccc" stroke-width="1"/>
<ellipse cx="422.8" cy="373.1" rx="1.50" ry="1.30" transform="rotate(131 422.8 373.1)" fill="#b95ccc"/>
<ellipse cx="420.4" cy="377.4" rx="1.30" ry="1.01" transform="rotate(114 420.4 377.4)" fill="#a23fbe"/>
<ellipse cx="424.4" cy="381.2" rx="1.50" ry="1.29" transform="rotate(166 424.4 381.2)" fill="#c878d6"/>
<ellipse cx="427.4" cy="385.9" rx="1.50" ry="1.33" transform="rotate(126 427.4 385.9)" fill="#f3cdf1" stroke="#a23fbe" stroke-width="1"/>
<ellipse cx="436.5" cy="379.5" rx="1.70" ry="1.69" transform="rotate(100 436.5 379.5)" fill="#c878d6"/>
<ellipse cx="405.6" cy="385.9" rx="1.50" ry="1.38" transform="rotate(78 405.6 385.9)" fill="#f3cdf1" stroke="#b95ccc" stroke-width="1"/>
<ellipse cx="400.2" cy="388.6" rx="1.70" ry="1.42" transform="rotate(58 400.2 388.6)" fill="#f3cdf1" stroke="#b95ccc" stroke-width="1"/>
<ellipse cx="433.2" cy="394.9" rx="1.30" ry="1.02" transform="rotate(162 433.2 394.9)" fill="#a23fbe"/>
<ellipse cx="435.2" cy="400.7" rx="1.70" ry="1.69" transform="rotate(88 435.2 400.7)" fill="#b95ccc"/>
<ellipse cx="430.5" cy="404.7" rx="1.30" ry="0.98" transform="rotate(33 430.5 404.7)" fill="#c878d6"/>
<ellipse cx="408.9" cy="399.3" rx="1.30" ry="1.22" transform="rotate(160 408.9 399.3)" fill="#a23fbe"/>
<ellipse cx="412.3" cy="401.3" rx="1.50" ry="1.29" transform="rotate(65 412.3 401.3)" fill="#f3cdf1" stroke="#b95ccc" stroke-width="1"/>
<ellipse cx="414.3" cy="400.7" rx="1.70" ry="1.31" transform="rotate(14 414.3 400.7)" fill="#a23fbe"/>
<ellipse cx="402.9" cy="404.0" rx="1.50" ry="1.45" transform="rotate(97 402.9 404.0)" fill="#f3cdf1" stroke="#c878d6" stroke-width="1"/>
<ellipse cx="405.6" cy="408.7" rx="1.70" ry="1.69" transform="rotate(171 405.6 408.7)" fill="#f3cdf1" stroke="#c878d6" stroke-width="1"/>
<ellipse cx="398.8" cy="404.7" rx="1.30" ry="1.05" transform="rotate(153 398.8 404.7)" fill="#f3cdf1" stroke="#b95ccc" stroke-width="1"/>
<ellipse cx="406.9" cy="404.0" rx="1.30" ry="0.99" transform="rotate(75 406.9 404.0)" fill="#b95ccc"/>
<ellipse cx="410.3" cy="397.3" rx="1.70" ry="1.34" transform="rotate(47 410.3 397.3)" fill="#a23fbe"/>
<ellipse cx="441.9" cy="397.3" rx="1.30" ry="0.98" transform="rotate(114 441.9 397.3)" fill="#f3cdf1" stroke="#a23fbe" stroke-width="1"/>
<ellipse cx="395.9" cy="390.7" rx="2.50" ry="2.48" transform="rotate(93 395.9 390.7)" fill="#5a0e9a"/>
<ellipse cx="396.2" cy="390.6" rx="1.30" ry="1.08" transform="rotate(140 396.2 390.6)" fill="#3c0680"/>
</g></g>
<rect x="387.40" y="369.40" width="56.90" height="44.00" fill="none" stroke="#8a8a8a" stroke-width="0.9"/>
<text x="442.80" y="411.90" font-size="7.3" text-anchor="end" fill="#222">500X</text>
<clipPath id="c446_369"><rect x="446.3" y="369.4" width="57.4" height="44"/></clipPath>
<g clip-path="url(#c446_369)">
<rect x="446.30" y="369.40" width="57.40" height="44.00" fill="#fffdff" stroke="none" stroke-width="1"/>
<g filter="url(#bl2)">
<circle cx="472.0" cy="386.0" r="8" fill="#f8dcf6" opacity="0.45"/>
<circle cx="490.0" cy="380.0" r="6" fill="#f6d2f3" opacity="0.4"/>
<circle cx="455.0" cy="400.0" r="6" fill="#f8daf6" opacity="0.45"/>
<circle cx="485.0" cy="398.0" r="6" fill="#fae1f8" opacity="0.4"/>
</g><g filter="url(#bl1)">
<ellipse cx="466.9" cy="376.0" rx="1.40" ry="1.22" transform="rotate(117 466.9 376.0)" fill="#f3cdf1" stroke="#a23fbe" stroke-width="1"/>
<ellipse cx="473.6" cy="376.8" rx="1.40" ry="1.08" transform="rotate(97 473.6 376.8)" fill="#f3cdf1" stroke="#b95ccc" stroke-width="1"/>
<ellipse cx="479.0" cy="378.2" rx="1.40" ry="1.15" transform="rotate(175 479.0 378.2)" fill="#f3cdf1" stroke="#a23fbe" stroke-width="1"/>
<ellipse cx="488.5" cy="371.7" rx="1.80" ry="1.63" transform="rotate(11 488.5 371.7)" fill="#f3cdf1" stroke="#b95ccc" stroke-width="1"/>
<ellipse cx="492.5" cy="371.1" rx="1.40" ry="1.12" transform="rotate(164 492.5 371.1)" fill="#f3cdf1" stroke="#b95ccc" stroke-width="1"/>
<ellipse cx="482.4" cy="370.7" rx="1.40" ry="1.10" transform="rotate(153 482.4 370.7)" fill="#f3cdf1" stroke="#b95ccc" stroke-width="1"/>
<ellipse cx="489.8" cy="379.1" rx="1.40" ry="1.28" transform="rotate(65 489.8 379.1)" fill="#f3cdf1" stroke="#a23fbe" stroke-width="1"/>
<ellipse cx="480.4" cy="383.8" rx="1.60" ry="1.32" transform="rotate(177 480.4 383.8)" fill="#f3cdf1" stroke="#9a32b8" stroke-width="1"/>
<ellipse cx="485.1" cy="385.9" rx="1.80" ry="1.41" transform="rotate(145 485.1 385.9)" fill="#9a32b8"/>
<ellipse cx="468.3" cy="384.5" rx="1.40" ry="1.07" transform="rotate(123 468.3 384.5)" fill="#9a32b8"/>
<ellipse cx="465.6" cy="389.2" rx="1.80" ry="1.79" transform="rotate(68 465.6 389.2)" fill="#a23fbe"/>
<ellipse cx="458.8" cy="392.6" rx="1.80" ry="1.66" transform="rotate(25 458.8 392.6)" fill="#f3cdf1" stroke="#a23fbe" stroke-width="1"/>
<ellipse cx="450.1" cy="389.2" rx="1.80" ry="1.57" transform="rotate(172 450.1 389.2)" fill="#9a32b8"/>
<ellipse cx="450.1" cy="396.6" rx="1.40" ry="1.15" transform="rotate(132 450.1 396.6)" fill="#9a32b8"/>
<ellipse cx="457.5" cy="396.6" rx="1.80" ry="1.56" transform="rotate(119 457.5 396.6)" fill="#a23fbe"/>
<ellipse cx="462.9" cy="396.6" rx="1.80" ry="1.80" transform="rotate(30 462.9 396.6)" fill="#b95ccc"/>
<ellipse cx="458.2" cy="403.4" rx="1.80" ry="1.44" transform="rotate(140 458.2 403.4)" fill="#9a32b8"/>
<ellipse cx="451.4" cy="405.4" rx="1.40" ry="1.38" transform="rotate(21 451.4 405.4)" fill="#9a32b8"/>
<ellipse cx="452.8" cy="408.1" rx="1.80" ry="1.48" transform="rotate(4 452.8 408.1)" fill="#9a32b8"/>
<ellipse cx="481.7" cy="391.2" rx="1.80" ry="1.72" transform="rotate(19 481.7 391.2)" fill="#f3cdf1" stroke="#b95ccc" stroke-width="1"/>
<ellipse cx="487.1" cy="391.9" rx="1.40" ry="1.40" transform="rotate(115 487.1 391.9)" fill="#b95ccc"/>
<ellipse cx="481.7" cy="400.3" rx="1.40" ry="1.12" transform="rotate(99 481.7 400.3)" fill="#a23fbe"/>
<ellipse cx="489.8" cy="398.0" rx="1.80" ry="1.38" transform="rotate(53 489.8 398.0)" fill="#b95ccc"/>
<ellipse cx="494.5" cy="385.2" rx="1.80" ry="1.41" transform="rotate(23 494.5 385.2)" fill="#9a32b8"/>
<ellipse cx="499.2" cy="382.5" rx="1.60" ry="1.30" transform="rotate(134 499.2 382.5)" fill="#f3cdf1" stroke="#a23fbe" stroke-width="1"/>
<ellipse cx="501.9" cy="380.5" rx="1.40" ry="1.10" transform="rotate(92 501.9 380.5)" fill="#9a32b8"/>
<ellipse cx="501.9" cy="398.0" rx="1.80" ry="1.58" transform="rotate(161 501.9 398.0)" fill="#b95ccc"/>
<ellipse cx="470.3" cy="408.1" rx="1.40" ry="1.30" transform="rotate(28 470.3 408.1)" fill="#9a32b8"/>
<ellipse cx="476.3" cy="410.8" rx="1.60" ry="1.40" transform="rotate(59 476.3 410.8)" fill="#b95ccc"/>
<ellipse cx="502.6" cy="375.1" rx="1.40" ry="1.19" transform="rotate(124 502.6 375.1)" fill="#9a32b8"/>
<ellipse cx="470.3" cy="370.1" rx="1.40" ry="1.05" transform="rotate(40 470.3 370.1)" fill="#9a32b8"/>
</g></g>
<rect x="446.30" y="369.40" width="57.40" height="44.00" fill="none" stroke="#8a8a8a" stroke-width="0.9"/>
<text x="502.20" y="411.90" font-size="7.3" text-anchor="end" fill="#222">500X</text>
<text x="418.50" y="362.80" font-size="8.7" text-anchor="middle" fill="#111">Flt3<tspan font-size="5.2" dy="-4.4" dx="0.6">hi</tspan><tspan dy="4.4">Mpl</tspan><tspan font-size="5.2" dy="-4.4" dx="0.6">hi</tspan></text>
<text x="478.00" y="362.80" font-size="8.7" text-anchor="middle" fill="#111">Flt3<tspan font-size="5.2" dy="-4.4" dx="0.6">hi</tspan><tspan dy="4.4">Mpl</tspan><tspan font-size="5.5" dy="-4.2" dx="0.3">-</tspan></text>
<line x1="44.20" y1="475.40" x2="44.20" y2="580.85" stroke="#000" stroke-width="1.25"/>
<line x1="43.60" y1="580.25" x2="113.80" y2="580.25" stroke="#000" stroke-width="1.25"/>
<line x1="41.60" y1="476.00" x2="44.20" y2="476.00" stroke="#000" stroke-width="1.2"/>
<text x="36.40" y="479.00" font-size="7.3" text-anchor="end" font-weight="bold" fill="#000">100</text>
<line x1="41.60" y1="502.06" x2="44.20" y2="502.06" stroke="#000" stroke-width="1.2"/>
<text x="36.40" y="505.06" font-size="7.3" text-anchor="end" font-weight="bold" fill="#000">75</text>
<line x1="41.60" y1="528.12" x2="44.20" y2="528.12" stroke="#000" stroke-width="1.2"/>
<text x="36.40" y="531.12" font-size="7.3" text-anchor="end" font-weight="bold" fill="#000">50</text>
<line x1="41.60" y1="554.18" x2="44.20" y2="554.18" stroke="#000" stroke-width="1.2"/>
<text x="36.40" y="557.18" font-size="7.3" text-anchor="end" font-weight="bold" fill="#000">25</text>
<line x1="41.60" y1="580.24" x2="44.20" y2="580.24" stroke="#000" stroke-width="1.2"/>
<text x="36.40" y="583.24" font-size="7.3" text-anchor="end" font-weight="bold" fill="#000">0</text>
<rect x="49.60" y="501.80" width="24.40" height="78.45" fill="#0d0d0d" stroke="none" stroke-width="1"/>
<line x1="61.60" y1="501.80" x2="61.60" y2="493.50" stroke="#000" stroke-width="1.2"/>
<line x1="55.60" y1="493.50" x2="67.60" y2="493.50" stroke="#000" stroke-width="1.2"/>
<rect x="84.50" y="501.80" width="24.20" height="78.45" fill="#0d0d0d" stroke="none" stroke-width="1"/>
<line x1="96.60" y1="501.80" x2="96.60" y2="497.50" stroke="#000" stroke-width="1.2"/>
<line x1="90.60" y1="497.50" x2="102.60" y2="497.50" stroke="#000" stroke-width="1.2"/>
<text x="53.90" y="598.50" font-size="8.7" text-anchor="start" fill="#111">Flt3<tspan font-size="5.0" dy="-6.4" dx="1">hi</tspan></text>
<text x="86.80" y="592.50" font-size="8.7" text-anchor="start" fill="#111">Flt3<tspan font-size="5.0" dy="-6.4" dx="1">hi</tspan></text>
<text x="86.80" y="604.70" font-size="8.7" text-anchor="start" fill="#111">Mpl<tspan font-size="6" dy="-3.4" dx="1">-</tspan></text>
<text transform="translate(9.60,522.00) rotate(-90)" font-size="8.7" text-anchor="middle" fill="#111">T cell potential,</text>
<text transform="translate(18.30,522.50) rotate(-90)" font-size="8.7" text-anchor="middle" fill="#111">% of total cells</text>
<clipPath id="f140"><rect x="140.4" y="524.6" width="47.6" height="48"/></clipPath>
<g clip-path="url(#f140)" filter="url(#bl1)">
<circle cx="151.9" cy="533.7" r="0.7" fill="#c3c6ec" opacity="0.4"/>
<circle cx="157.9" cy="534.4" r="0.7" fill="#c3c6ec" opacity="0.4"/>
<circle cx="155.8" cy="534.7" r="0.7" fill="#c3c6ec" opacity="0.4"/>
<circle cx="159.2" cy="533.5" r="0.7" fill="#c3c6ec" opacity="0.4"/>
<circle cx="159.1" cy="530.7" r="0.7" fill="#c3c6ec" opacity="0.4"/>
<circle cx="169.8" cy="535.9" r="0.7" fill="#c3c6ec" opacity="0.4"/>
<circle cx="155.8" cy="530.5" r="0.7" fill="#c3c6ec" opacity="0.4"/>
<circle cx="157.4" cy="535.0" r="0.7" fill="#c3c6ec" opacity="0.4"/>
<circle cx="140.4" cy="537.0" r="0.7" fill="#c3c6ec" opacity="0.4"/>
<circle cx="153.8" cy="532.8" r="0.7" fill="#c3c6ec" opacity="0.4"/>
<circle cx="154.3" cy="534.1" r="0.7" fill="#c3c6ec" opacity="0.4"/>
<circle cx="161.9" cy="533.8" r="0.7" fill="#c3c6ec" opacity="0.4"/>
<circle cx="161.7" cy="532.5" r="0.7" fill="#c3c6ec" opacity="0.4"/>
<circle cx="163.5" cy="533.2" r="0.7" fill="#c3c6ec" opacity="0.4"/>
<circle cx="158.2" cy="535.4" r="0.7" fill="#c3c6ec" opacity="0.4"/>
<circle cx="161.3" cy="534.9" r="0.7" fill="#c3c6ec" opacity="0.4"/>
<circle cx="172.0" cy="532.8" r="0.7" fill="#c3c6ec" opacity="0.4"/>
<circle cx="162.5" cy="531.6" r="0.7" fill="#c3c6ec" opacity="0.4"/>
<circle cx="172.2" cy="531.8" r="0.7" fill="#c3c6ec" opacity="0.4"/>
<circle cx="149.1" cy="532.9" r="0.7" fill="#c3c6ec" opacity="0.4"/>
<circle cx="169.0" cy="534.3" r="0.7" fill="#c3c6ec" opacity="0.4"/>
<circle cx="148.6" cy="534.4" r="0.7" fill="#c3c6ec" opacity="0.4"/>
<circle cx="155.7" cy="532.6" r="0.7" fill="#c3c6ec" opacity="0.4"/>
<circle cx="173.2" cy="534.6" r="0.7" fill="#c3c6ec" opacity="0.4"/>
<circle cx="164.1" cy="534.8" r="0.7" fill="#c3c6ec" opacity="0.4"/>
<circle cx="156.0" cy="534.6" r="0.7" fill="#c3c6ec" opacity="0.4"/>
<circle cx="157.8" cy="529.5" r="0.7" fill="#c3c6ec" opacity="0.4"/>
<circle cx="158.4" cy="535.8" r="0.7" fill="#c3c6ec" opacity="0.4"/>
<circle cx="156.4" cy="535.4" r="0.7" fill="#c3c6ec" opacity="0.4"/>
<circle cx="155.9" cy="534.2" r="0.7" fill="#c3c6ec" opacity="0.4"/>
<circle cx="161.3" cy="534.5" r="0.7" fill="#c3c6ec" opacity="0.4"/>
<circle cx="165.3" cy="532.6" r="0.7" fill="#c3c6ec" opacity="0.4"/>
<circle cx="161.6" cy="536.8" r="0.7" fill="#c3c6ec" opacity="0.4"/>
<circle cx="166.1" cy="533.6" r="0.7" fill="#c3c6ec" opacity="0.4"/>
<circle cx="161.7" cy="534.4" r="0.7" fill="#c3c6ec" opacity="0.4"/>
<circle cx="164.0" cy="534.3" r="0.7" fill="#c3c6ec" opacity="0.4"/>
<circle cx="163.0" cy="534.2" r="0.7" fill="#c3c6ec" opacity="0.4"/>
<circle cx="158.6" cy="535.5" r="0.7" fill="#c3c6ec" opacity="0.4"/>
<circle cx="167.2" cy="532.0" r="0.7" fill="#c3c6ec" opacity="0.4"/>
<circle cx="153.3" cy="534.4" r="0.7" fill="#c3c6ec" opacity="0.4"/>
<circle cx="152.8" cy="533.4" r="0.7" fill="#c3c6ec" opacity="0.4"/>
<circle cx="157.8" cy="534.1" r="0.7" fill="#c3c6ec" opacity="0.4"/>
<circle cx="156.1" cy="537.5" r="0.7" fill="#c3c6ec" opacity="0.4"/>
<circle cx="164.4" cy="534.9" r="0.7" fill="#c3c6ec" opacity="0.4"/>
<circle cx="150.1" cy="531.4" r="0.7" fill="#c3c6ec" opacity="0.4"/>
<circle cx="160.1" cy="534.8" r="0.7" fill="#c3c6ec" opacity="0.4"/>
<circle cx="159.1" cy="535.1" r="0.7" fill="#c3c6ec" opacity="0.4"/>
<circle cx="143.8" cy="534.8" r="0.7" fill="#c3c6ec" opacity="0.4"/>
<circle cx="166.7" cy="531.1" r="0.7" fill="#c3c6ec" opacity="0.4"/>
<circle cx="160.6" cy="533.7" r="0.7" fill="#c3c6ec" opacity="0.4"/>
<circle cx="155.5" cy="530.5" r="0.7" fill="#c3c6ec" opacity="0.4"/>
<circle cx="150.5" cy="533.9" r="0.7" fill="#c3c6ec" opacity="0.4"/>
<circle cx="165.5" cy="533.6" r="0.7" fill="#c3c6ec" opacity="0.4"/>
<circle cx="169.9" cy="532.4" r="0.7" fill="#c3c6ec" opacity="0.4"/>
<circle cx="169.7" cy="530.4" r="0.7" fill="#c3c6ec" opacity="0.4"/>
<circle cx="159.0" cy="534.3" r="0.7" fill="#c3c6ec" opacity="0.4"/>
<circle cx="163.5" cy="535.1" r="0.7" fill="#c3c6ec" opacity="0.4"/>
<circle cx="152.6" cy="530.3" r="0.7" fill="#c3c6ec" opacity="0.4"/>
<circle cx="157.3" cy="531.5" r="0.7" fill="#c3c6ec" opacity="0.4"/>
<circle cx="159.7" cy="531.9" r="0.7" fill="#c3c6ec" opacity="0.4"/>
<circle cx="157.2" cy="533.5" r="0.7" fill="#c3c6ec" opacity="0.4"/>
<circle cx="160.0" cy="532.5" r="0.7" fill="#c3c6ec" opacity="0.4"/>
<circle cx="167.2" cy="532.6" r="0.7" fill="#c3c6ec" opacity="0.4"/>
<circle cx="157.9" cy="534.3" r="0.7" fill="#c3c6ec" opacity="0.4"/>
<circle cx="158.9" cy="535.7" r="0.7" fill="#c3c6ec" opacity="0.4"/>
<circle cx="158.0" cy="532.9" r="0.7" fill="#c3c6ec" opacity="0.4"/>
<circle cx="166.2" cy="534.4" r="0.7" fill="#c3c6ec" opacity="0.4"/>
<circle cx="153.4" cy="532.9" r="0.7" fill="#c3c6ec" opacity="0.4"/>
<circle cx="160.5" cy="535.6" r="0.7" fill="#c3c6ec" opacity="0.4"/>
<circle cx="164.5" cy="533.7" r="0.7" fill="#c3c6ec" opacity="0.4"/>
<circle cx="143.1" cy="534.5" r="0.7" fill="#c3c6ec" opacity="0.4"/>
<circle cx="150.7" cy="531.1" r="0.7" fill="#c3c6ec" opacity="0.4"/>
<circle cx="154.3" cy="533.8" r="0.7" fill="#c3c6ec" opacity="0.4"/>
<circle cx="159.3" cy="537.4" r="0.7" fill="#c3c6ec" opacity="0.4"/>
<circle cx="157.4" cy="532.4" r="0.7" fill="#c3c6ec" opacity="0.4"/>
<circle cx="166.6" cy="533.8" r="0.7" fill="#c3c6ec" opacity="0.4"/>
<circle cx="155.9" cy="532.2" r="0.7" fill="#c3c6ec" opacity="0.4"/>
<circle cx="158.6" cy="535.8" r="0.7" fill="#c3c6ec" opacity="0.4"/>
<circle cx="163.2" cy="533.1" r="0.7" fill="#c3c6ec" opacity="0.4"/>
<circle cx="164.8" cy="533.9" r="0.7" fill="#c3c6ec" opacity="0.4"/>
<circle cx="150.4" cy="534.7" r="0.7" fill="#c3c6ec" opacity="0.4"/>
<circle cx="162.7" cy="536.1" r="0.7" fill="#c3c6ec" opacity="0.4"/>
<circle cx="158.5" cy="531.8" r="0.7" fill="#c3c6ec" opacity="0.4"/>
<circle cx="163.8" cy="537.4" r="0.7" fill="#c3c6ec" opacity="0.4"/>
<circle cx="154.4" cy="536.2" r="0.7" fill="#c3c6ec" opacity="0.4"/>
<circle cx="159.6" cy="534.7" r="0.7" fill="#c3c6ec" opacity="0.4"/>
<circle cx="159.4" cy="532.3" r="0.7" fill="#c3c6ec" opacity="0.4"/>
<circle cx="166.3" cy="533.1" r="0.7" fill="#c3c6ec" opacity="0.4"/>
<circle cx="160.8" cy="534.6" r="0.7" fill="#c3c6ec" opacity="0.4"/>
<circle cx="150.7" cy="534.7" r="0.7" fill="#c3c6ec" opacity="0.4"/>
<circle cx="162.5" cy="533.3" r="0.7" fill="#c3c6ec" opacity="0.4"/>
<circle cx="155.5" cy="534.2" r="0.7" fill="#c3c6ec" opacity="0.4"/>
<circle cx="162.5" cy="533.5" r="0.7" fill="#c3c6ec" opacity="0.4"/>
<circle cx="161.2" cy="533.8" r="0.7" fill="#c3c6ec" opacity="0.4"/>
<circle cx="148.1" cy="535.6" r="0.7" fill="#c3c6ec" opacity="0.4"/>
<circle cx="166.9" cy="532.0" r="0.7" fill="#c3c6ec" opacity="0.4"/>
<circle cx="174.1" cy="533.5" r="0.7" fill="#c3c6ec" opacity="0.4"/>
<circle cx="157.0" cy="534.4" r="0.7" fill="#c3c6ec" opacity="0.4"/>
<circle cx="168.9" cy="532.6" r="0.7" fill="#c3c6ec" opacity="0.4"/>
<circle cx="168.4" cy="534.0" r="0.7" fill="#c3c6ec" opacity="0.4"/>
<circle cx="154.5" cy="534.6" r="0.7" fill="#c3c6ec" opacity="0.4"/>
<circle cx="157.1" cy="534.4" r="0.7" fill="#c3c6ec" opacity="0.4"/>
<circle cx="164.3" cy="533.6" r="0.7" fill="#c3c6ec" opacity="0.4"/>
<circle cx="149.3" cy="536.6" r="0.7" fill="#c3c6ec" opacity="0.4"/>
<circle cx="171.0" cy="536.3" r="0.7" fill="#c3c6ec" opacity="0.4"/>
<circle cx="160.6" cy="535.0" r="0.7" fill="#c3c6ec" opacity="0.4"/>
<circle cx="164.2" cy="531.1" r="0.7" fill="#c3c6ec" opacity="0.4"/>
<circle cx="157.1" cy="533.8" r="0.7" fill="#c3c6ec" opacity="0.4"/>
<circle cx="152.8" cy="533.8" r="0.7" fill="#c3c6ec" opacity="0.4"/>
<circle cx="162.7" cy="533.1" r="0.7" fill="#c3c6ec" opacity="0.4"/>
<circle cx="149.9" cy="536.0" r="0.7" fill="#c3c6ec" opacity="0.4"/>
<circle cx="165.6" cy="533.9" r="0.7" fill="#c3c6ec" opacity="0.4"/>
<circle cx="163.2" cy="531.2" r="0.7" fill="#c3c6ec" opacity="0.4"/>
<circle cx="160.7" cy="533.7" r="0.7" fill="#c3c6ec" opacity="0.4"/>
<circle cx="172.5" cy="534.9" r="0.7" fill="#c3c6ec" opacity="0.4"/>
<circle cx="158.5" cy="536.1" r="0.7" fill="#c3c6ec" opacity="0.4"/>
<circle cx="163.8" cy="532.8" r="0.7" fill="#c3c6ec" opacity="0.4"/>
<circle cx="156.7" cy="537.3" r="0.7" fill="#c3c6ec" opacity="0.4"/>
<circle cx="155.2" cy="532.8" r="0.7" fill="#c3c6ec" opacity="0.4"/>
<circle cx="157.8" cy="532.3" r="0.7" fill="#c3c6ec" opacity="0.4"/>
<circle cx="158.9" cy="533.7" r="0.7" fill="#c3c6ec" opacity="0.4"/>
<circle cx="159.5" cy="530.3" r="0.7" fill="#c3c6ec" opacity="0.4"/>
<circle cx="148.6" cy="530.9" r="0.7" fill="#c3c6ec" opacity="0.4"/>
<circle cx="163.7" cy="533.8" r="0.7" fill="#c3c6ec" opacity="0.4"/>
<circle cx="142.9" cy="534.2" r="0.7" fill="#c3c6ec" opacity="0.4"/>
<circle cx="165.2" cy="533.2" r="0.7" fill="#c3c6ec" opacity="0.4"/>
<circle cx="159.0" cy="535.2" r="0.7" fill="#c3c6ec" opacity="0.4"/>
<circle cx="144.1" cy="533.7" r="0.7" fill="#c3c6ec" opacity="0.4"/>
<circle cx="163.8" cy="536.1" r="0.7" fill="#c3c6ec" opacity="0.4"/>
<circle cx="158.1" cy="530.8" r="0.7" fill="#c3c6ec" opacity="0.4"/>
<circle cx="160.3" cy="531.6" r="0.7" fill="#c3c6ec" opacity="0.4"/>
<circle cx="156.3" cy="534.8" r="0.7" fill="#c3c6ec" opacity="0.4"/>
<circle cx="151.7" cy="535.6" r="0.7" fill="#c3c6ec" opacity="0.4"/>
<circle cx="162.8" cy="534.1" r="0.7" fill="#c3c6ec" opacity="0.4"/>
<circle cx="159.1" cy="532.5" r="0.7" fill="#c3c6ec" opacity="0.4"/>
<circle cx="160.6" cy="533.8" r="0.7" fill="#c3c6ec" opacity="0.4"/>
<circle cx="153.5" cy="533.2" r="0.7" fill="#c3c6ec" opacity="0.4"/>
<circle cx="172.4" cy="533.2" r="0.7" fill="#c3c6ec" opacity="0.4"/>
<circle cx="164.1" cy="533.5" r="0.7" fill="#c3c6ec" opacity="0.4"/>
<circle cx="161.5" cy="533.9" r="0.7" fill="#c3c6ec" opacity="0.4"/>
<circle cx="148.8" cy="533.6" r="0.7" fill="#c3c6ec" opacity="0.4"/>
<circle cx="154.5" cy="534.0" r="0.7" fill="#c3c6ec" opacity="0.4"/>
<circle cx="151.2" cy="534.6" r="0.7" fill="#c3c6ec" opacity="0.4"/>
<circle cx="154.0" cy="531.4" r="0.7" fill="#c3c6ec" opacity="0.4"/>
<circle cx="164.5" cy="531.8" r="0.7" fill="#c3c6ec" opacity="0.4"/>
<circle cx="168.0" cy="535.6" r="0.7" fill="#c3c6ec" opacity="0.4"/>
<circle cx="156.7" cy="535.5" r="0.7" fill="#c3c6ec" opacity="0.4"/>
<circle cx="151.6" cy="535.4" r="0.7" fill="#c3c6ec" opacity="0.4"/>
<circle cx="160.5" cy="534.7" r="0.7" fill="#c3c6ec" opacity="0.4"/>
<circle cx="159.1" cy="534.5" r="0.7" fill="#c3c6ec" opacity="0.4"/>
<circle cx="165.4" cy="532.3" r="0.7" fill="#c3c6ec" opacity="0.4"/>
<circle cx="156.0" cy="534.9" r="0.7" fill="#c3c6ec" opacity="0.4"/>
<circle cx="166.7" cy="533.5" r="0.7" fill="#c3c6ec" opacity="0.4"/>
<circle cx="160.4" cy="536.3" r="0.7" fill="#c3c6ec" opacity="0.4"/>
<circle cx="147.6" cy="529.8" r="0.7" fill="#c3c6ec" opacity="0.4"/>
<circle cx="164.9" cy="534.6" r="0.7" fill="#c3c6ec" opacity="0.4"/>
<circle cx="164.2" cy="531.0" r="0.7" fill="#c3c6ec" opacity="0.4"/>
<circle cx="160.6" cy="533.4" r="0.7" fill="#c3c6ec" opacity="0.4"/>
<circle cx="158.1" cy="534.3" r="0.7" fill="#c3c6ec" opacity="0.4"/>
<circle cx="165.5" cy="537.3" r="0.7" fill="#c3c6ec" opacity="0.4"/>
<circle cx="146.0" cy="531.9" r="0.7" fill="#c3c6ec" opacity="0.4"/>
<circle cx="149.9" cy="535.8" r="0.7" fill="#c3c6ec" opacity="0.4"/>
<circle cx="154.2" cy="534.0" r="0.7" fill="#c3c6ec" opacity="0.4"/>
<circle cx="161.7" cy="530.0" r="0.7" fill="#c3c6ec" opacity="0.4"/>
<circle cx="165.9" cy="534.8" r="0.7" fill="#c3c6ec" opacity="0.4"/>
<circle cx="155.7" cy="532.9" r="0.7" fill="#c3c6ec" opacity="0.4"/>
<circle cx="156.6" cy="534.2" r="0.7" fill="#c3c6ec" opacity="0.4"/>
<circle cx="160.4" cy="534.7" r="0.7" fill="#c3c6ec" opacity="0.4"/>
<circle cx="151.3" cy="532.3" r="0.7" fill="#c3c6ec" opacity="0.4"/>
<circle cx="159.3" cy="533.8" r="0.7" fill="#c3c6ec" opacity="0.4"/>
<circle cx="154.4" cy="535.6" r="0.7" fill="#c3c6ec" opacity="0.4"/>
<circle cx="161.2" cy="534.8" r="0.7" fill="#c3c6ec" opacity="0.4"/>
<circle cx="162.3" cy="536.2" r="0.7" fill="#c3c6ec" opacity="0.4"/>
<circle cx="156.8" cy="533.4" r="0.7" fill="#c3c6ec" opacity="0.4"/>
<circle cx="164.2" cy="534.5" r="0.7" fill="#c3c6ec" opacity="0.4"/>
<circle cx="150.2" cy="532.9" r="0.7" fill="#c3c6ec" opacity="0.4"/>
<circle cx="162.3" cy="534.1" r="0.7" fill="#c3c6ec" opacity="0.4"/>
<circle cx="156.8" cy="532.1" r="0.7" fill="#c3c6ec" opacity="0.4"/>
<circle cx="157.8" cy="534.9" r="0.7" fill="#c3c6ec" opacity="0.4"/>
<circle cx="164.4" cy="533.2" r="0.7" fill="#c3c6ec" opacity="0.4"/>
<circle cx="153.4" cy="533.0" r="0.7" fill="#c3c6ec" opacity="0.4"/>
<circle cx="147.8" cy="535.1" r="0.7" fill="#c3c6ec" opacity="0.4"/>
<circle cx="165.2" cy="533.6" r="0.7" fill="#c3c6ec" opacity="0.4"/>
<circle cx="162.4" cy="535.9" r="0.7" fill="#c3c6ec" opacity="0.4"/>
<circle cx="159.2" cy="533.8" r="0.7" fill="#c3c6ec" opacity="0.4"/>
<circle cx="164.6" cy="532.7" r="0.7" fill="#c3c6ec" opacity="0.4"/>
<circle cx="161.8" cy="532.2" r="0.7" fill="#c3c6ec" opacity="0.4"/>
<circle cx="164.4" cy="532.5" r="0.7" fill="#c3c6ec" opacity="0.4"/>
<circle cx="159.6" cy="533.8" r="0.7" fill="#c3c6ec" opacity="0.4"/>
<circle cx="150.2" cy="532.9" r="0.7" fill="#c3c6ec" opacity="0.4"/>
<circle cx="161.4" cy="533.3" r="0.7" fill="#c3c6ec" opacity="0.4"/>
<circle cx="154.5" cy="532.6" r="0.7" fill="#c3c6ec" opacity="0.4"/>
<circle cx="155.4" cy="533.6" r="0.7" fill="#c3c6ec" opacity="0.4"/>
<circle cx="157.4" cy="535.4" r="0.7" fill="#c3c6ec" opacity="0.4"/>
<circle cx="161.8" cy="533.3" r="0.7" fill="#c3c6ec" opacity="0.4"/>
<circle cx="147.3" cy="533.8" r="0.7" fill="#c3c6ec" opacity="0.4"/>
<circle cx="163.2" cy="533.4" r="0.7" fill="#c3c6ec" opacity="0.4"/>
<circle cx="169.9" cy="536.2" r="0.7" fill="#c3c6ec" opacity="0.4"/>
<circle cx="166.4" cy="533.3" r="0.7" fill="#c3c6ec" opacity="0.4"/>
<circle cx="173.0" cy="534.7" r="0.7" fill="#c3c6ec" opacity="0.4"/>
<circle cx="148.3" cy="535.7" r="0.7" fill="#c3c6ec" opacity="0.4"/>
<circle cx="150.2" cy="531.7" r="0.7" fill="#c3c6ec" opacity="0.4"/>
<circle cx="165.1" cy="535.8" r="0.7" fill="#c3c6ec" opacity="0.4"/>
<circle cx="160.2" cy="535.1" r="0.7" fill="#c3c6ec" opacity="0.4"/>
<circle cx="166.0" cy="531.3" r="0.7" fill="#c3c6ec" opacity="0.4"/>
<circle cx="160.9" cy="534.6" r="0.7" fill="#c3c6ec" opacity="0.4"/>
<circle cx="152.7" cy="534.7" r="0.7" fill="#c3c6ec" opacity="0.4"/>
<circle cx="156.5" cy="534.1" r="0.7" fill="#c3c6ec" opacity="0.4"/>
<circle cx="159.2" cy="536.0" r="0.7" fill="#c3c6ec" opacity="0.4"/>
<circle cx="160.5" cy="533.3" r="0.7" fill="#c3c6ec" opacity="0.4"/>
<circle cx="148.9" cy="532.6" r="0.7" fill="#c3c6ec" opacity="0.4"/>
<circle cx="171.1" cy="534.3" r="0.7" fill="#c3c6ec" opacity="0.4"/>
<circle cx="165.5" cy="535.0" r="0.7" fill="#c3c6ec" opacity="0.4"/>
<circle cx="150.3" cy="532.9" r="0.7" fill="#c3c6ec" opacity="0.4"/>
<circle cx="156.7" cy="535.1" r="0.7" fill="#c3c6ec" opacity="0.4"/>
<circle cx="153.1" cy="532.8" r="0.7" fill="#c3c6ec" opacity="0.4"/>
<circle cx="155.2" cy="532.2" r="0.7" fill="#c3c6ec" opacity="0.4"/>
<circle cx="157.7" cy="533.7" r="0.7" fill="#c3c6ec" opacity="0.4"/>
<circle cx="153.5" cy="532.4" r="0.7" fill="#c3c6ec" opacity="0.4"/>
<circle cx="160.0" cy="536.1" r="0.7" fill="#c3c6ec" opacity="0.4"/>
<circle cx="164.0" cy="532.4" r="0.6" fill="#9aa0dc" opacity="0.45"/>
<circle cx="164.8" cy="534.5" r="0.6" fill="#9aa0dc" opacity="0.45"/>
<circle cx="164.6" cy="533.8" r="0.6" fill="#9aa0dc" opacity="0.45"/>
<circle cx="162.5" cy="533.7" r="0.6" fill="#9aa0dc" opacity="0.45"/>
<circle cx="160.6" cy="533.9" r="0.6" fill="#9aa0dc" opacity="0.45"/>
<circle cx="167.1" cy="533.9" r="0.6" fill="#9aa0dc" opacity="0.45"/>
<circle cx="167.2" cy="534.3" r="0.6" fill="#9aa0dc" opacity="0.45"/>
<circle cx="164.0" cy="532.3" r="0.6" fill="#9aa0dc" opacity="0.45"/>
<circle cx="166.4" cy="533.9" r="0.6" fill="#9aa0dc" opacity="0.45"/>
<circle cx="158.9" cy="535.2" r="0.6" fill="#9aa0dc" opacity="0.45"/>
<circle cx="166.9" cy="535.0" r="0.6" fill="#9aa0dc" opacity="0.45"/>
<circle cx="167.7" cy="533.5" r="0.6" fill="#9aa0dc" opacity="0.45"/>
<circle cx="164.2" cy="532.9" r="0.6" fill="#9aa0dc" opacity="0.45"/>
<circle cx="166.5" cy="533.4" r="0.6" fill="#9aa0dc" opacity="0.45"/>
<circle cx="169.1" cy="532.9" r="0.6" fill="#9aa0dc" opacity="0.45"/>
<circle cx="165.8" cy="535.0" r="0.6" fill="#9aa0dc" opacity="0.45"/>
<circle cx="164.4" cy="533.3" r="0.6" fill="#9aa0dc" opacity="0.45"/>
<circle cx="160.9" cy="534.9" r="0.6" fill="#9aa0dc" opacity="0.45"/>
<circle cx="166.5" cy="535.3" r="0.6" fill="#9aa0dc" opacity="0.45"/>
<circle cx="162.8" cy="535.3" r="0.6" fill="#9aa0dc" opacity="0.45"/>
<circle cx="165.4" cy="534.4" r="0.6" fill="#9aa0dc" opacity="0.45"/>
<circle cx="165.1" cy="533.2" r="0.6" fill="#9aa0dc" opacity="0.45"/>
<circle cx="163.3" cy="534.7" r="0.6" fill="#9aa0dc" opacity="0.45"/>
<circle cx="163.2" cy="533.7" r="0.6" fill="#9aa0dc" opacity="0.45"/>
<circle cx="164.1" cy="534.0" r="0.6" fill="#9aa0dc" opacity="0.45"/>
<circle cx="167.1" cy="532.9" r="0.6" fill="#9aa0dc" opacity="0.45"/>
<circle cx="164.8" cy="533.1" r="0.6" fill="#9aa0dc" opacity="0.45"/>
<circle cx="163.8" cy="533.0" r="0.6" fill="#9aa0dc" opacity="0.45"/>
<circle cx="159.9" cy="533.2" r="0.6" fill="#9aa0dc" opacity="0.45"/>
<circle cx="160.1" cy="535.1" r="0.6" fill="#9aa0dc" opacity="0.45"/>
<circle cx="160.3" cy="533.1" r="0.6" fill="#9aa0dc" opacity="0.45"/>
<circle cx="164.4" cy="533.2" r="0.6" fill="#9aa0dc" opacity="0.45"/>
<circle cx="167.2" cy="533.4" r="0.6" fill="#9aa0dc" opacity="0.45"/>
<circle cx="159.8" cy="534.6" r="0.6" fill="#9aa0dc" opacity="0.45"/>
<circle cx="162.8" cy="536.5" r="0.6" fill="#9aa0dc" opacity="0.45"/>
<circle cx="161.3" cy="533.1" r="0.6" fill="#9aa0dc" opacity="0.45"/>
<circle cx="163.8" cy="532.4" r="0.6" fill="#9aa0dc" opacity="0.45"/>
<circle cx="165.4" cy="535.0" r="0.6" fill="#9aa0dc" opacity="0.45"/>
<circle cx="168.1" cy="534.1" r="0.6" fill="#9aa0dc" opacity="0.45"/>
<circle cx="163.4" cy="534.9" r="0.6" fill="#9aa0dc" opacity="0.45"/>
<circle cx="166.9" cy="533.4" r="0.6" fill="#9aa0dc" opacity="0.45"/>
<circle cx="162.3" cy="532.8" r="0.6" fill="#9aa0dc" opacity="0.45"/>
<circle cx="164.2" cy="533.5" r="0.6" fill="#9aa0dc" opacity="0.45"/>
<circle cx="165.6" cy="534.6" r="0.6" fill="#9aa0dc" opacity="0.45"/>
<circle cx="160.7" cy="534.0" r="0.6" fill="#9aa0dc" opacity="0.45"/>
<circle cx="164.6" cy="533.2" r="0.6" fill="#9aa0dc" opacity="0.45"/>
<circle cx="164.0" cy="534.9" r="0.6" fill="#9aa0dc" opacity="0.45"/>
<circle cx="163.7" cy="533.5" r="0.6" fill="#9aa0dc" opacity="0.45"/>
<circle cx="162.7" cy="533.9" r="0.6" fill="#9aa0dc" opacity="0.45"/>
<circle cx="162.3" cy="534.1" r="0.6" fill="#9aa0dc" opacity="0.45"/>
<circle cx="160.5" cy="532.8" r="0.6" fill="#9aa0dc" opacity="0.45"/>
<circle cx="164.5" cy="534.8" r="0.6" fill="#9aa0dc" opacity="0.45"/>
<circle cx="162.1" cy="533.6" r="0.6" fill="#9aa0dc" opacity="0.45"/>
<circle cx="165.3" cy="533.2" r="0.6" fill="#9aa0dc" opacity="0.45"/>
<circle cx="164.2" cy="533.9" r="0.6" fill="#9aa0dc" opacity="0.45"/>
<circle cx="160.1" cy="532.0" r="0.6" fill="#9aa0dc" opacity="0.45"/>
<circle cx="164.0" cy="532.5" r="0.6" fill="#9aa0dc" opacity="0.45"/>
<circle cx="163.5" cy="533.7" r="0.6" fill="#9aa0dc" opacity="0.45"/>
<circle cx="161.5" cy="532.5" r="0.6" fill="#9aa0dc" opacity="0.45"/>
<circle cx="161.3" cy="534.7" r="0.6" fill="#9aa0dc" opacity="0.45"/>
<circle cx="157.8" cy="534.3" r="0.6" fill="#9aa0dc" opacity="0.45"/>
<circle cx="163.3" cy="532.7" r="0.6" fill="#9aa0dc" opacity="0.45"/>
<circle cx="164.1" cy="533.3" r="0.6" fill="#9aa0dc" opacity="0.45"/>
<circle cx="160.9" cy="533.3" r="0.6" fill="#9aa0dc" opacity="0.45"/>
<circle cx="163.6" cy="533.8" r="0.6" fill="#9aa0dc" opacity="0.45"/>
<circle cx="163.6" cy="533.3" r="0.6" fill="#9aa0dc" opacity="0.45"/>
<circle cx="157.6" cy="532.8" r="0.6" fill="#9aa0dc" opacity="0.45"/>
<circle cx="164.6" cy="534.0" r="0.6" fill="#9aa0dc" opacity="0.45"/>
<circle cx="161.1" cy="532.8" r="0.6" fill="#9aa0dc" opacity="0.45"/>
<circle cx="160.5" cy="532.1" r="0.6" fill="#9aa0dc" opacity="0.45"/>
<circle cx="164.5" cy="534.3" r="0.6" fill="#9aa0dc" opacity="0.45"/>
<circle cx="163.2" cy="533.8" r="0.6" fill="#9aa0dc" opacity="0.45"/>
<circle cx="167.0" cy="532.4" r="0.6" fill="#9aa0dc" opacity="0.45"/>
<circle cx="163.4" cy="533.4" r="0.6" fill="#9aa0dc" opacity="0.45"/>
<circle cx="165.9" cy="532.1" r="0.6" fill="#9aa0dc" opacity="0.45"/>
<circle cx="159.3" cy="533.9" r="0.6" fill="#9aa0dc" opacity="0.45"/>
<circle cx="161.7" cy="533.7" r="0.6" fill="#9aa0dc" opacity="0.45"/>
<circle cx="165.0" cy="533.9" r="0.6" fill="#9aa0dc" opacity="0.45"/>
<circle cx="165.8" cy="533.7" r="0.6" fill="#9aa0dc" opacity="0.45"/>
<circle cx="163.5" cy="532.0" r="0.6" fill="#9aa0dc" opacity="0.45"/>
<circle cx="165.1" cy="532.4" r="0.5" fill="#4a56b0" opacity="0.55"/>
<circle cx="163.6" cy="534.2" r="0.5" fill="#4a56b0" opacity="0.55"/>
<circle cx="161.4" cy="533.8" r="0.5" fill="#4a56b0" opacity="0.55"/>
<circle cx="162.6" cy="533.2" r="0.5" fill="#4a56b0" opacity="0.55"/>
<circle cx="161.4" cy="531.9" r="0.5" fill="#4a56b0" opacity="0.55"/>
<circle cx="164.4" cy="534.7" r="0.5" fill="#4a56b0" opacity="0.55"/>
<circle cx="165.0" cy="533.4" r="0.5" fill="#4a56b0" opacity="0.55"/>
<circle cx="164.0" cy="534.5" r="0.5" fill="#4a56b0" opacity="0.55"/>
<circle cx="166.1" cy="532.9" r="0.5" fill="#4a56b0" opacity="0.55"/>
<circle cx="162.4" cy="534.6" r="0.5" fill="#4a56b0" opacity="0.55"/>
<circle cx="163.3" cy="533.8" r="0.5" fill="#4a56b0" opacity="0.55"/>
<circle cx="165.6" cy="532.8" r="0.5" fill="#4a56b0" opacity="0.55"/>
<circle cx="163.0" cy="532.3" r="0.5" fill="#4a56b0" opacity="0.55"/>
<circle cx="165.5" cy="533.2" r="0.5" fill="#4a56b0" opacity="0.55"/>
<circle cx="165.0" cy="532.4" r="0.5" fill="#4a56b0" opacity="0.55"/>
<circle cx="164.8" cy="532.7" r="0.5" fill="#4a56b0" opacity="0.55"/>
<circle cx="163.5" cy="532.4" r="0.5" fill="#4a56b0" opacity="0.55"/>
<circle cx="163.4" cy="533.8" r="0.5" fill="#4a56b0" opacity="0.55"/>
<circle cx="163.4" cy="533.1" r="0.5" fill="#4a56b0" opacity="0.55"/>
<circle cx="164.5" cy="533.1" r="0.5" fill="#4a56b0" opacity="0.55"/>
<circle cx="164.5" cy="533.4" r="0.5" fill="#4a56b0" opacity="0.55"/>
<circle cx="165.0" cy="533.0" r="0.5" fill="#4a56b0" opacity="0.55"/>
<circle cx="178.6" cy="534.9" r="0.55" fill="#9aa0dc" opacity="0.5"/>
<circle cx="180.8" cy="535.2" r="0.55" fill="#9aa0dc" opacity="0.5"/>
<circle cx="176.5" cy="532.9" r="0.55" fill="#9aa0dc" opacity="0.5"/>
<circle cx="178.2" cy="534.0" r="0.55" fill="#9aa0dc" opacity="0.5"/>
<circle cx="176.9" cy="533.8" r="0.55" fill="#9aa0dc" opacity="0.5"/>
<circle cx="179.6" cy="532.1" r="0.55" fill="#9aa0dc" opacity="0.5"/>
<circle cx="178.8" cy="534.3" r="0.55" fill="#9aa0dc" opacity="0.5"/>
<circle cx="180.8" cy="532.1" r="0.55" fill="#9aa0dc" opacity="0.5"/>
<circle cx="179.1" cy="534.4" r="0.55" fill="#9aa0dc" opacity="0.5"/>
<circle cx="178.5" cy="535.3" r="0.55" fill="#9aa0dc" opacity="0.5"/>
<circle cx="181.5" cy="535.2" r="0.55" fill="#9aa0dc" opacity="0.5"/>
<circle cx="179.2" cy="532.6" r="0.55" fill="#9aa0dc" opacity="0.5"/>
<circle cx="179.4" cy="532.7" r="0.55" fill="#9aa0dc" opacity="0.5"/>
<circle cx="178.1" cy="535.3" r="0.55" fill="#9aa0dc" opacity="0.5"/>
<circle cx="180.6" cy="536.1" r="0.55" fill="#9aa0dc" opacity="0.5"/>
<circle cx="178.7" cy="535.9" r="0.55" fill="#9aa0dc" opacity="0.5"/>
<circle cx="178.0" cy="534.7" r="0.55" fill="#9aa0dc" opacity="0.5"/>
<circle cx="178.2" cy="535.8" r="0.55" fill="#9aa0dc" opacity="0.5"/>
<circle cx="178.0" cy="533.2" r="0.55" fill="#9aa0dc" opacity="0.5"/>
<circle cx="176.4" cy="538.1" r="0.55" fill="#9aa0dc" opacity="0.5"/>
<circle cx="175.0" cy="534.5" r="0.55" fill="#9aa0dc" opacity="0.5"/>
<circle cx="178.0" cy="534.3" r="0.55" fill="#9aa0dc" opacity="0.5"/>
<circle cx="176.7" cy="535.4" r="0.55" fill="#9aa0dc" opacity="0.5"/>
<circle cx="178.5" cy="533.2" r="0.55" fill="#9aa0dc" opacity="0.5"/>
<circle cx="177.7" cy="532.8" r="0.55" fill="#9aa0dc" opacity="0.5"/>
<circle cx="179.0" cy="537.5" r="0.55" fill="#9aa0dc" opacity="0.5"/>
<circle cx="180.9" cy="536.1" r="0.55" fill="#9aa0dc" opacity="0.5"/>
<circle cx="178.3" cy="534.7" r="0.55" fill="#9aa0dc" opacity="0.5"/>
<circle cx="179.2" cy="537.0" r="0.55" fill="#9aa0dc" opacity="0.5"/>
<circle cx="178.5" cy="534.6" r="0.55" fill="#9aa0dc" opacity="0.5"/>
<circle cx="176.3" cy="534.7" r="0.55" fill="#9aa0dc" opacity="0.5"/>
<circle cx="178.6" cy="533.7" r="0.55" fill="#9aa0dc" opacity="0.5"/>
<circle cx="176.7" cy="534.6" r="0.55" fill="#9aa0dc" opacity="0.5"/>
<circle cx="178.9" cy="533.6" r="0.55" fill="#9aa0dc" opacity="0.5"/>
<circle cx="179.6" cy="534.2" r="0.55" fill="#9aa0dc" opacity="0.5"/>
<circle cx="178.9" cy="536.9" r="0.55" fill="#9aa0dc" opacity="0.5"/>
<circle cx="177.5" cy="534.6" r="0.55" fill="#9aa0dc" opacity="0.5"/>
<circle cx="177.8" cy="534.1" r="0.55" fill="#9aa0dc" opacity="0.5"/>
<circle cx="178.9" cy="532.3" r="0.55" fill="#9aa0dc" opacity="0.5"/>
<circle cx="178.8" cy="532.5" r="0.55" fill="#9aa0dc" opacity="0.5"/>
<circle cx="177.2" cy="535.8" r="0.55" fill="#9aa0dc" opacity="0.5"/>
<circle cx="175.5" cy="536.5" r="0.55" fill="#9aa0dc" opacity="0.5"/>
<circle cx="181.4" cy="536.2" r="0.55" fill="#9aa0dc" opacity="0.5"/>
<circle cx="179.4" cy="534.8" r="0.55" fill="#9aa0dc" opacity="0.5"/>
<circle cx="178.0" cy="537.8" r="0.55" fill="#9aa0dc" opacity="0.5"/>
<circle cx="177.4" cy="534.4" r="0.5" fill="#4a56b0" opacity="0.55"/>
<circle cx="178.8" cy="534.0" r="0.5" fill="#4a56b0" opacity="0.55"/>
<circle cx="177.2" cy="534.6" r="0.5" fill="#4a56b0" opacity="0.55"/>
<circle cx="178.3" cy="533.1" r="0.5" fill="#4a56b0" opacity="0.55"/>
<circle cx="177.8" cy="533.8" r="0.5" fill="#4a56b0" opacity="0.55"/>
<circle cx="178.1" cy="534.8" r="0.5" fill="#4a56b0" opacity="0.55"/>
<circle cx="179.0" cy="533.4" r="0.5" fill="#4a56b0" opacity="0.55"/>
<circle cx="178.3" cy="533.9" r="0.5" fill="#4a56b0" opacity="0.55"/>
<circle cx="149.0" cy="555.2" r="0.7" fill="#dcdff4" opacity="0.3"/>
<circle cx="160.4" cy="548.0" r="0.7" fill="#dcdff4" opacity="0.3"/>
<circle cx="144.8" cy="553.9" r="0.7" fill="#dcdff4" opacity="0.3"/>
<circle cx="165.5" cy="555.2" r="0.7" fill="#dcdff4" opacity="0.3"/>
<circle cx="160.0" cy="561.8" r="0.7" fill="#dcdff4" opacity="0.3"/>
<circle cx="168.2" cy="546.1" r="0.7" fill="#dcdff4" opacity="0.3"/>
<circle cx="169.2" cy="555.0" r="0.7" fill="#dcdff4" opacity="0.3"/>
<circle cx="159.4" cy="558.6" r="0.7" fill="#dcdff4" opacity="0.3"/>
<circle cx="169.7" cy="556.0" r="0.7" fill="#dcdff4" opacity="0.3"/>
<circle cx="175.1" cy="570.2" r="0.7" fill="#dcdff4" opacity="0.3"/>
<circle cx="164.4" cy="546.3" r="0.7" fill="#dcdff4" opacity="0.3"/>
<circle cx="169.5" cy="549.1" r="0.7" fill="#dcdff4" opacity="0.3"/>
<circle cx="143.5" cy="565.3" r="0.7" fill="#dcdff4" opacity="0.3"/>
<circle cx="169.5" cy="537.5" r="0.7" fill="#dcdff4" opacity="0.3"/>
<circle cx="158.9" cy="552.1" r="0.7" fill="#dcdff4" opacity="0.3"/>
<circle cx="161.9" cy="547.1" r="0.7" fill="#dcdff4" opacity="0.3"/>
<circle cx="167.7" cy="557.6" r="0.7" fill="#dcdff4" opacity="0.3"/>
<circle cx="174.9" cy="551.7" r="0.7" fill="#dcdff4" opacity="0.3"/>
<circle cx="168.9" cy="538.1" r="0.7" fill="#dcdff4" opacity="0.3"/>
<circle cx="150.9" cy="550.0" r="0.7" fill="#dcdff4" opacity="0.3"/>
<circle cx="159.6" cy="551.0" r="0.7" fill="#dcdff4" opacity="0.3"/>
<circle cx="156.9" cy="545.1" r="0.7" fill="#dcdff4" opacity="0.3"/>
<circle cx="163.8" cy="532.6" r="0.7" fill="#dcdff4" opacity="0.3"/>
<circle cx="153.2" cy="554.4" r="0.7" fill="#dcdff4" opacity="0.3"/>
<circle cx="164.9" cy="541.6" r="0.7" fill="#dcdff4" opacity="0.3"/>
<circle cx="167.1" cy="562.7" r="0.7" fill="#dcdff4" opacity="0.3"/>
<circle cx="177.6" cy="540.6" r="0.7" fill="#dcdff4" opacity="0.3"/>
<circle cx="159.0" cy="535.1" r="0.7" fill="#dcdff4" opacity="0.3"/>
<circle cx="158.9" cy="539.6" r="0.7" fill="#dcdff4" opacity="0.3"/>
<circle cx="156.7" cy="552.0" r="0.7" fill="#dcdff4" opacity="0.3"/>
<circle cx="161.9" cy="547.4" r="0.7" fill="#dcdff4" opacity="0.3"/>
<circle cx="149.7" cy="556.8" r="0.7" fill="#dcdff4" opacity="0.3"/>
<circle cx="161.8" cy="539.0" r="0.7" fill="#dcdff4" opacity="0.3"/>
<circle cx="165.0" cy="558.4" r="0.7" fill="#dcdff4" opacity="0.3"/>
<circle cx="151.6" cy="553.1" r="0.7" fill="#dcdff4" opacity="0.3"/>
<circle cx="152.4" cy="556.5" r="0.7" fill="#dcdff4" opacity="0.3"/>
<circle cx="170.8" cy="547.8" r="0.7" fill="#dcdff4" opacity="0.3"/>
<circle cx="155.2" cy="538.5" r="0.7" fill="#dcdff4" opacity="0.3"/>
<circle cx="156.1" cy="556.0" r="0.7" fill="#dcdff4" opacity="0.3"/>
<circle cx="167.8" cy="549.6" r="0.7" fill="#dcdff4" opacity="0.3"/>
<circle cx="159.3" cy="548.7" r="0.7" fill="#dcdff4" opacity="0.3"/>
<circle cx="169.7" cy="531.4" r="0.7" fill="#dcdff4" opacity="0.3"/>
<circle cx="160.4" cy="549.6" r="0.7" fill="#dcdff4" opacity="0.3"/>
<circle cx="153.9" cy="545.5" r="0.7" fill="#dcdff4" opacity="0.3"/>
<circle cx="162.6" cy="540.6" r="0.7" fill="#dcdff4" opacity="0.3"/>
<circle cx="153.0" cy="538.5" r="0.7" fill="#dcdff4" opacity="0.3"/>
<circle cx="154.8" cy="548.9" r="0.7" fill="#dcdff4" opacity="0.3"/>
<circle cx="171.5" cy="548.2" r="0.7" fill="#dcdff4" opacity="0.3"/>
<circle cx="161.0" cy="542.7" r="0.7" fill="#dcdff4" opacity="0.3"/>
<circle cx="165.4" cy="545.9" r="0.7" fill="#dcdff4" opacity="0.3"/>
</g>
<rect x="140.40" y="524.60" width="47.60" height="48.00" fill="none" stroke="#111" stroke-width="1.1"/>
<rect x="172.70" y="529.20" width="11.50" height="12.30" fill="none" stroke="#e31ad6" stroke-width="1.35"/>
<text x="138.20" y="530.30" font-size="3.8" text-anchor="end" fill="#333">10<tspan font-size="2.4" dy="-1.7" dx="0.1">5</tspan></text>
<text x="138.20" y="541.30" font-size="3.8" text-anchor="end" fill="#333">10<tspan font-size="2.4" dy="-1.7" dx="0.1">4</tspan></text>
<text x="138.20" y="552.10" font-size="3.8" text-anchor="end" fill="#333">10<tspan font-size="2.4" dy="-1.7" dx="0.1">3</tspan></text>
<text x="138.20" y="562.10" font-size="3.8" text-anchor="end" fill="#333">10<tspan font-size="2.4" dy="-1.7" dx="0.1">2</tspan></text>
<text x="137.60" y="568.90" font-size="3.8" text-anchor="end" fill="#333">0</text>
<text x="145.40" y="578.20" font-size="3.8" text-anchor="start" fill="#333">0</text>
<text x="149.40" y="578.20" font-size="3.8" text-anchor="start" fill="#333">10<tspan font-size="2.4" dy="-1.7" dx="0.1">2</tspan></text>
<text x="162.40" y="578.20" font-size="3.8" text-anchor="start" fill="#333">10<tspan font-size="2.4" dy="-1.7" dx="0.1">3</tspan></text>
<text x="173.90" y="578.20" font-size="3.8" text-anchor="start" fill="#333">10<tspan font-size="2.4" dy="-1.7" dx="0.1">4</tspan></text>
<text x="184.70" y="578.20" font-size="3.8" text-anchor="start" fill="#333">10<tspan font-size="2.4" dy="-1.7" dx="0.1">5</tspan></text>
<text x="165.50" y="587.20" font-size="7.4" text-anchor="middle" fill="#333">CD25</text>
<text transform="translate(129.6,549.6) rotate(-90)" font-size="6.4" text-anchor="middle" fill="#333">Thy1.2</text>
<clipPath id="f212"><rect x="212.2" y="524.6" width="49" height="48.2"/></clipPath>
<g clip-path="url(#f212)" filter="url(#bl1)">
<circle cx="229.1" cy="551.1" r="0.7" fill="#c3c6ec" opacity="0.33"/>
<circle cx="228.1" cy="552.0" r="0.7" fill="#c3c6ec" opacity="0.33"/>
<circle cx="223.3" cy="551.6" r="0.7" fill="#c3c6ec" opacity="0.33"/>
<circle cx="219.0" cy="552.6" r="0.7" fill="#c3c6ec" opacity="0.33"/>
<circle cx="222.4" cy="549.0" r="0.7" fill="#c3c6ec" opacity="0.33"/>
<circle cx="223.6" cy="553.1" r="0.7" fill="#c3c6ec" opacity="0.33"/>
<circle cx="223.3" cy="545.1" r="0.7" fill="#c3c6ec" opacity="0.33"/>
<circle cx="220.2" cy="551.0" r="0.7" fill="#c3c6ec" opacity="0.33"/>
<circle cx="225.7" cy="548.8" r="0.7" fill="#c3c6ec" opacity="0.33"/>
<circle cx="224.7" cy="552.6" r="0.7" fill="#c3c6ec" opacity="0.33"/>
<circle cx="225.7" cy="546.6" r="0.7" fill="#c3c6ec" opacity="0.33"/>
<circle cx="219.9" cy="549.1" r="0.7" fill="#c3c6ec" opacity="0.33"/>
<circle cx="220.4" cy="550.6" r="0.7" fill="#c3c6ec" opacity="0.33"/>
<circle cx="229.0" cy="550.8" r="0.7" fill="#c3c6ec" opacity="0.33"/>
<circle cx="217.5" cy="547.6" r="0.7" fill="#c3c6ec" opacity="0.33"/>
<circle cx="226.5" cy="548.6" r="0.7" fill="#c3c6ec" opacity="0.33"/>
<circle cx="222.1" cy="554.5" r="0.7" fill="#c3c6ec" opacity="0.33"/>
<circle cx="231.4" cy="554.8" r="0.7" fill="#c3c6ec" opacity="0.33"/>
<circle cx="217.4" cy="555.3" r="0.7" fill="#c3c6ec" opacity="0.33"/>
<circle cx="223.4" cy="553.8" r="0.7" fill="#c3c6ec" opacity="0.33"/>
<circle cx="223.9" cy="554.0" r="0.7" fill="#c3c6ec" opacity="0.33"/>
<circle cx="224.2" cy="551.5" r="0.7" fill="#c3c6ec" opacity="0.33"/>
<circle cx="223.2" cy="549.2" r="0.7" fill="#c3c6ec" opacity="0.33"/>
<circle cx="224.1" cy="553.5" r="0.7" fill="#c3c6ec" opacity="0.33"/>
<circle cx="218.2" cy="551.7" r="0.7" fill="#c3c6ec" opacity="0.33"/>
<circle cx="218.8" cy="548.4" r="0.7" fill="#c3c6ec" opacity="0.33"/>
<circle cx="215.8" cy="555.8" r="0.7" fill="#c3c6ec" opacity="0.33"/>
<circle cx="225.2" cy="550.6" r="0.7" fill="#c3c6ec" opacity="0.33"/>
<circle cx="229.6" cy="546.3" r="0.7" fill="#c3c6ec" opacity="0.33"/>
<circle cx="224.6" cy="549.9" r="0.7" fill="#c3c6ec" opacity="0.33"/>
<circle cx="227.8" cy="548.1" r="0.7" fill="#c3c6ec" opacity="0.33"/>
<circle cx="224.8" cy="551.3" r="0.7" fill="#c3c6ec" opacity="0.33"/>
<circle cx="231.7" cy="550.2" r="0.7" fill="#c3c6ec" opacity="0.33"/>
<circle cx="224.0" cy="552.5" r="0.7" fill="#c3c6ec" opacity="0.33"/>
<circle cx="226.5" cy="552.8" r="0.7" fill="#c3c6ec" opacity="0.33"/>
<circle cx="224.8" cy="548.9" r="0.7" fill="#c3c6ec" opacity="0.33"/>
<circle cx="230.8" cy="555.9" r="0.7" fill="#c3c6ec" opacity="0.33"/>
<circle cx="224.9" cy="549.8" r="0.7" fill="#c3c6ec" opacity="0.33"/>
<circle cx="229.8" cy="549.1" r="0.7" fill="#c3c6ec" opacity="0.33"/>
<circle cx="225.6" cy="547.5" r="0.7" fill="#c3c6ec" opacity="0.33"/>
<circle cx="231.6" cy="548.5" r="0.7" fill="#c3c6ec" opacity="0.33"/>
<circle cx="225.9" cy="549.8" r="0.7" fill="#c3c6ec" opacity="0.33"/>
<circle cx="221.6" cy="548.3" r="0.7" fill="#c3c6ec" opacity="0.33"/>
<circle cx="223.7" cy="548.5" r="0.7" fill="#c3c6ec" opacity="0.33"/>
<circle cx="229.2" cy="549.1" r="0.7" fill="#c3c6ec" opacity="0.33"/>
<circle cx="223.6" cy="553.2" r="0.7" fill="#c3c6ec" opacity="0.33"/>
<circle cx="228.1" cy="553.6" r="0.7" fill="#c3c6ec" opacity="0.33"/>
<circle cx="229.8" cy="552.3" r="0.7" fill="#c3c6ec" opacity="0.33"/>
<circle cx="227.9" cy="553.7" r="0.7" fill="#c3c6ec" opacity="0.33"/>
<circle cx="217.2" cy="551.3" r="0.7" fill="#c3c6ec" opacity="0.33"/>
<circle cx="224.4" cy="551.1" r="0.7" fill="#c3c6ec" opacity="0.33"/>
<circle cx="227.3" cy="548.8" r="0.7" fill="#c3c6ec" opacity="0.33"/>
<circle cx="216.5" cy="549.8" r="0.7" fill="#c3c6ec" opacity="0.33"/>
<circle cx="226.9" cy="549.2" r="0.7" fill="#c3c6ec" opacity="0.33"/>
<circle cx="211.8" cy="554.5" r="0.7" fill="#c3c6ec" opacity="0.33"/>
<circle cx="231.0" cy="553.0" r="0.7" fill="#c3c6ec" opacity="0.33"/>
<circle cx="223.1" cy="550.8" r="0.7" fill="#c3c6ec" opacity="0.33"/>
<circle cx="217.6" cy="548.8" r="0.7" fill="#c3c6ec" opacity="0.33"/>
<circle cx="228.5" cy="550.3" r="0.7" fill="#c3c6ec" opacity="0.33"/>
<circle cx="230.5" cy="550.9" r="0.7" fill="#c3c6ec" opacity="0.33"/>
<circle cx="212.3" cy="551.8" r="0.7" fill="#c3c6ec" opacity="0.33"/>
<circle cx="232.6" cy="552.2" r="0.7" fill="#c3c6ec" opacity="0.33"/>
<circle cx="220.5" cy="549.6" r="0.7" fill="#c3c6ec" opacity="0.33"/>
<circle cx="227.4" cy="549.4" r="0.7" fill="#c3c6ec" opacity="0.33"/>
<circle cx="217.4" cy="551.8" r="0.7" fill="#c3c6ec" opacity="0.33"/>
<circle cx="224.5" cy="549.5" r="0.7" fill="#c3c6ec" opacity="0.33"/>
<circle cx="218.7" cy="552.4" r="0.7" fill="#c3c6ec" opacity="0.33"/>
<circle cx="214.3" cy="549.7" r="0.7" fill="#c3c6ec" opacity="0.33"/>
<circle cx="221.3" cy="556.0" r="0.7" fill="#c3c6ec" opacity="0.33"/>
<circle cx="218.6" cy="553.1" r="0.7" fill="#c3c6ec" opacity="0.33"/>
<circle cx="223.1" cy="554.4" r="0.7" fill="#c3c6ec" opacity="0.33"/>
<circle cx="231.9" cy="550.7" r="0.7" fill="#c3c6ec" opacity="0.33"/>
<circle cx="225.3" cy="549.0" r="0.7" fill="#c3c6ec" opacity="0.33"/>
<circle cx="222.1" cy="553.3" r="0.7" fill="#c3c6ec" opacity="0.33"/>
<circle cx="217.3" cy="549.4" r="0.7" fill="#c3c6ec" opacity="0.33"/>
<circle cx="224.3" cy="550.6" r="0.7" fill="#c3c6ec" opacity="0.33"/>
<circle cx="222.0" cy="546.0" r="0.7" fill="#c3c6ec" opacity="0.33"/>
<circle cx="222.3" cy="551.1" r="0.7" fill="#c3c6ec" opacity="0.33"/>
<circle cx="223.8" cy="551.6" r="0.7" fill="#c3c6ec" opacity="0.33"/>
<circle cx="228.6" cy="556.8" r="0.7" fill="#c3c6ec" opacity="0.33"/>
<circle cx="217.7" cy="548.9" r="0.7" fill="#c3c6ec" opacity="0.33"/>
<circle cx="226.9" cy="545.8" r="0.7" fill="#c3c6ec" opacity="0.33"/>
<circle cx="218.2" cy="549.0" r="0.7" fill="#c3c6ec" opacity="0.33"/>
<circle cx="218.1" cy="548.4" r="0.7" fill="#c3c6ec" opacity="0.33"/>
<circle cx="217.2" cy="549.1" r="0.7" fill="#c3c6ec" opacity="0.33"/>
<circle cx="225.9" cy="555.0" r="0.7" fill="#c3c6ec" opacity="0.33"/>
<circle cx="215.0" cy="552.5" r="0.7" fill="#c3c6ec" opacity="0.33"/>
<circle cx="226.8" cy="552.3" r="0.7" fill="#c3c6ec" opacity="0.33"/>
<circle cx="233.2" cy="552.3" r="0.7" fill="#c3c6ec" opacity="0.33"/>
<circle cx="230.9" cy="549.3" r="0.7" fill="#c3c6ec" opacity="0.33"/>
<circle cx="217.1" cy="554.8" r="0.7" fill="#c3c6ec" opacity="0.33"/>
<circle cx="225.6" cy="548.0" r="0.7" fill="#c3c6ec" opacity="0.33"/>
<circle cx="223.8" cy="553.5" r="0.7" fill="#c3c6ec" opacity="0.33"/>
<circle cx="219.8" cy="552.4" r="0.7" fill="#c3c6ec" opacity="0.33"/>
<circle cx="216.9" cy="552.9" r="0.7" fill="#c3c6ec" opacity="0.33"/>
<circle cx="225.7" cy="550.9" r="0.7" fill="#c3c6ec" opacity="0.33"/>
<circle cx="222.6" cy="551.0" r="0.7" fill="#c3c6ec" opacity="0.33"/>
<circle cx="231.4" cy="554.5" r="0.7" fill="#c3c6ec" opacity="0.33"/>
<circle cx="213.0" cy="548.6" r="0.7" fill="#c3c6ec" opacity="0.33"/>
<circle cx="223.1" cy="551.4" r="0.7" fill="#c3c6ec" opacity="0.33"/>
<circle cx="218.4" cy="553.6" r="0.7" fill="#c3c6ec" opacity="0.33"/>
<circle cx="238.3" cy="548.5" r="0.7" fill="#c3c6ec" opacity="0.33"/>
<circle cx="218.4" cy="551.7" r="0.7" fill="#c3c6ec" opacity="0.33"/>
<circle cx="230.3" cy="553.5" r="0.7" fill="#c3c6ec" opacity="0.33"/>
<circle cx="224.7" cy="552.8" r="0.7" fill="#c3c6ec" opacity="0.33"/>
<circle cx="224.5" cy="551.3" r="0.7" fill="#c3c6ec" opacity="0.33"/>
<circle cx="222.9" cy="550.1" r="0.7" fill="#c3c6ec" opacity="0.33"/>
<circle cx="226.3" cy="551.1" r="0.7" fill="#c3c6ec" opacity="0.33"/>
<circle cx="226.0" cy="550.3" r="0.7" fill="#c3c6ec" opacity="0.33"/>
<circle cx="232.7" cy="551.8" r="0.7" fill="#c3c6ec" opacity="0.33"/>
<circle cx="224.4" cy="555.5" r="0.7" fill="#c3c6ec" opacity="0.33"/>
<circle cx="224.7" cy="552.1" r="0.7" fill="#c3c6ec" opacity="0.33"/>
<circle cx="225.3" cy="547.2" r="0.7" fill="#c3c6ec" opacity="0.33"/>
<circle cx="229.5" cy="548.0" r="0.7" fill="#c3c6ec" opacity="0.33"/>
<circle cx="230.7" cy="553.1" r="0.7" fill="#c3c6ec" opacity="0.33"/>
<circle cx="222.5" cy="548.5" r="0.7" fill="#c3c6ec" opacity="0.33"/>
<circle cx="227.8" cy="550.5" r="0.7" fill="#c3c6ec" opacity="0.33"/>
<circle cx="232.5" cy="550.4" r="0.7" fill="#c3c6ec" opacity="0.33"/>
<circle cx="224.9" cy="551.3" r="0.7" fill="#c3c6ec" opacity="0.33"/>
<circle cx="218.1" cy="547.4" r="0.7" fill="#c3c6ec" opacity="0.33"/>
<circle cx="228.2" cy="552.4" r="0.7" fill="#c3c6ec" opacity="0.33"/>
<circle cx="223.6" cy="549.7" r="0.7" fill="#c3c6ec" opacity="0.33"/>
<circle cx="228.1" cy="549.0" r="0.7" fill="#c3c6ec" opacity="0.33"/>
<circle cx="228.9" cy="552.2" r="0.7" fill="#c3c6ec" opacity="0.33"/>
<circle cx="218.7" cy="550.0" r="0.7" fill="#c3c6ec" opacity="0.33"/>
<circle cx="222.6" cy="550.0" r="0.7" fill="#c3c6ec" opacity="0.33"/>
<circle cx="225.5" cy="548.9" r="0.7" fill="#c3c6ec" opacity="0.33"/>
<circle cx="219.2" cy="548.4" r="0.7" fill="#c3c6ec" opacity="0.33"/>
<circle cx="219.3" cy="552.6" r="0.7" fill="#c3c6ec" opacity="0.33"/>
<circle cx="227.0" cy="545.2" r="0.7" fill="#c3c6ec" opacity="0.33"/>
<circle cx="225.5" cy="548.0" r="0.7" fill="#c3c6ec" opacity="0.33"/>
<circle cx="223.5" cy="552.2" r="0.7" fill="#c3c6ec" opacity="0.33"/>
<circle cx="232.5" cy="550.6" r="0.7" fill="#c3c6ec" opacity="0.33"/>
<circle cx="226.3" cy="549.2" r="0.7" fill="#c3c6ec" opacity="0.33"/>
<circle cx="212.1" cy="546.9" r="0.7" fill="#c3c6ec" opacity="0.33"/>
<circle cx="227.6" cy="548.2" r="0.7" fill="#c3c6ec" opacity="0.33"/>
<circle cx="221.9" cy="553.9" r="0.7" fill="#c3c6ec" opacity="0.33"/>
<circle cx="228.1" cy="549.7" r="0.7" fill="#c3c6ec" opacity="0.33"/>
<circle cx="221.0" cy="548.1" r="0.7" fill="#c3c6ec" opacity="0.33"/>
<circle cx="231.9" cy="548.4" r="0.7" fill="#c3c6ec" opacity="0.33"/>
<circle cx="223.9" cy="551.4" r="0.7" fill="#c3c6ec" opacity="0.33"/>
<circle cx="223.5" cy="554.0" r="0.7" fill="#c3c6ec" opacity="0.33"/>
<circle cx="215.3" cy="548.8" r="0.7" fill="#c3c6ec" opacity="0.33"/>
<circle cx="225.2" cy="550.8" r="0.7" fill="#c3c6ec" opacity="0.33"/>
<circle cx="229.0" cy="547.2" r="0.7" fill="#c3c6ec" opacity="0.33"/>
<circle cx="228.8" cy="548.8" r="0.7" fill="#c3c6ec" opacity="0.33"/>
<circle cx="222.4" cy="556.3" r="0.7" fill="#c3c6ec" opacity="0.33"/>
<circle cx="226.9" cy="547.6" r="0.7" fill="#c3c6ec" opacity="0.33"/>
<circle cx="228.3" cy="550.1" r="0.7" fill="#c3c6ec" opacity="0.33"/>
<circle cx="230.0" cy="553.0" r="0.7" fill="#c3c6ec" opacity="0.33"/>
<circle cx="225.1" cy="549.6" r="0.7" fill="#c3c6ec" opacity="0.33"/>
<circle cx="224.0" cy="545.3" r="0.7" fill="#c3c6ec" opacity="0.33"/>
<circle cx="224.8" cy="554.8" r="0.7" fill="#c3c6ec" opacity="0.33"/>
<circle cx="221.3" cy="548.7" r="0.7" fill="#c3c6ec" opacity="0.33"/>
<circle cx="225.1" cy="553.2" r="0.7" fill="#c3c6ec" opacity="0.33"/>
<circle cx="224.1" cy="546.7" r="0.7" fill="#c3c6ec" opacity="0.33"/>
<circle cx="221.7" cy="551.6" r="0.7" fill="#c3c6ec" opacity="0.33"/>
<circle cx="227.3" cy="547.1" r="0.7" fill="#c3c6ec" opacity="0.33"/>
<circle cx="224.8" cy="554.7" r="0.7" fill="#c3c6ec" opacity="0.33"/>
<circle cx="233.1" cy="548.0" r="0.7" fill="#c3c6ec" opacity="0.33"/>
<circle cx="217.8" cy="550.9" r="0.7" fill="#c3c6ec" opacity="0.33"/>
<circle cx="221.0" cy="550.4" r="0.7" fill="#c3c6ec" opacity="0.33"/>
<circle cx="225.2" cy="552.8" r="0.7" fill="#c3c6ec" opacity="0.33"/>
<circle cx="222.4" cy="548.9" r="0.7" fill="#c3c6ec" opacity="0.33"/>
<circle cx="218.9" cy="550.3" r="0.7" fill="#c3c6ec" opacity="0.33"/>
<circle cx="220.9" cy="551.1" r="0.7" fill="#c3c6ec" opacity="0.33"/>
<circle cx="242.1" cy="553.8" r="0.7" fill="#c3c6ec" opacity="0.33"/>
<circle cx="222.2" cy="552.2" r="0.7" fill="#c3c6ec" opacity="0.33"/>
<circle cx="217.5" cy="547.9" r="0.7" fill="#c3c6ec" opacity="0.33"/>
<circle cx="228.1" cy="554.2" r="0.7" fill="#c3c6ec" opacity="0.33"/>
<circle cx="220.3" cy="553.9" r="0.7" fill="#c3c6ec" opacity="0.33"/>
<circle cx="225.4" cy="551.4" r="0.7" fill="#c3c6ec" opacity="0.33"/>
<circle cx="235.0" cy="551.0" r="0.7" fill="#c3c6ec" opacity="0.33"/>
<circle cx="216.9" cy="551.6" r="0.7" fill="#c3c6ec" opacity="0.33"/>
<circle cx="223.3" cy="555.8" r="0.7" fill="#c3c6ec" opacity="0.33"/>
<circle cx="212.1" cy="554.1" r="0.7" fill="#c3c6ec" opacity="0.33"/>
<circle cx="225.1" cy="546.5" r="0.7" fill="#c3c6ec" opacity="0.33"/>
<circle cx="228.1" cy="550.8" r="0.7" fill="#c3c6ec" opacity="0.33"/>
<circle cx="227.6" cy="551.7" r="0.7" fill="#c3c6ec" opacity="0.33"/>
<circle cx="225.0" cy="552.3" r="0.7" fill="#c3c6ec" opacity="0.33"/>
<circle cx="230.7" cy="552.3" r="0.7" fill="#c3c6ec" opacity="0.33"/>
<circle cx="228.2" cy="549.2" r="0.7" fill="#c3c6ec" opacity="0.33"/>
<circle cx="235.4" cy="549.4" r="0.7" fill="#c3c6ec" opacity="0.33"/>
<circle cx="230.8" cy="552.7" r="0.7" fill="#c3c6ec" opacity="0.33"/>
<circle cx="221.8" cy="552.1" r="0.7" fill="#c3c6ec" opacity="0.33"/>
<circle cx="228.1" cy="550.8" r="0.7" fill="#c3c6ec" opacity="0.33"/>
<circle cx="216.8" cy="549.8" r="0.7" fill="#c3c6ec" opacity="0.33"/>
<circle cx="231.9" cy="550.3" r="0.7" fill="#c3c6ec" opacity="0.33"/>
<circle cx="219.3" cy="553.1" r="0.7" fill="#c3c6ec" opacity="0.33"/>
<circle cx="231.7" cy="557.0" r="0.7" fill="#c3c6ec" opacity="0.33"/>
<circle cx="227.9" cy="551.2" r="0.7" fill="#c3c6ec" opacity="0.33"/>
<circle cx="228.1" cy="551.8" r="0.7" fill="#c3c6ec" opacity="0.33"/>
<circle cx="216.9" cy="555.8" r="0.7" fill="#c3c6ec" opacity="0.33"/>
<circle cx="232.7" cy="548.5" r="0.7" fill="#c3c6ec" opacity="0.33"/>
<circle cx="233.2" cy="552.6" r="0.7" fill="#c3c6ec" opacity="0.33"/>
<circle cx="222.0" cy="547.7" r="0.7" fill="#c3c6ec" opacity="0.33"/>
<circle cx="225.9" cy="551.2" r="0.7" fill="#c3c6ec" opacity="0.33"/>
<circle cx="229.7" cy="554.7" r="0.7" fill="#c3c6ec" opacity="0.33"/>
<circle cx="231.7" cy="549.8" r="0.7" fill="#c3c6ec" opacity="0.33"/>
<circle cx="221.8" cy="554.6" r="0.7" fill="#c3c6ec" opacity="0.33"/>
<circle cx="224.1" cy="550.1" r="0.7" fill="#c3c6ec" opacity="0.33"/>
<circle cx="222.1" cy="553.1" r="0.7" fill="#c3c6ec" opacity="0.33"/>
<circle cx="228.5" cy="553.4" r="0.7" fill="#c3c6ec" opacity="0.33"/>
<circle cx="226.0" cy="553.0" r="0.7" fill="#c3c6ec" opacity="0.33"/>
<circle cx="229.1" cy="554.4" r="0.7" fill="#c3c6ec" opacity="0.33"/>
<circle cx="232.7" cy="551.6" r="0.7" fill="#c3c6ec" opacity="0.33"/>
<circle cx="224.5" cy="552.0" r="0.7" fill="#c3c6ec" opacity="0.33"/>
<circle cx="227.5" cy="550.5" r="0.7" fill="#c3c6ec" opacity="0.33"/>
<circle cx="234.1" cy="549.2" r="0.7" fill="#c3c6ec" opacity="0.33"/>
<circle cx="226.3" cy="550.4" r="0.7" fill="#c3c6ec" opacity="0.33"/>
<circle cx="221.7" cy="551.7" r="0.7" fill="#c3c6ec" opacity="0.33"/>
<circle cx="233.5" cy="549.1" r="0.7" fill="#c3c6ec" opacity="0.33"/>
<circle cx="219.8" cy="549.2" r="0.7" fill="#c3c6ec" opacity="0.33"/>
<circle cx="218.5" cy="555.4" r="0.7" fill="#c3c6ec" opacity="0.33"/>
<circle cx="216.3" cy="551.8" r="0.7" fill="#c3c6ec" opacity="0.33"/>
<circle cx="226.4" cy="552.7" r="0.7" fill="#c3c6ec" opacity="0.33"/>
<circle cx="232.2" cy="552.7" r="0.7" fill="#c3c6ec" opacity="0.33"/>
<circle cx="221.1" cy="550.8" r="0.7" fill="#c3c6ec" opacity="0.33"/>
<circle cx="227.0" cy="549.8" r="0.7" fill="#c3c6ec" opacity="0.33"/>
<circle cx="221.3" cy="552.1" r="0.7" fill="#c3c6ec" opacity="0.33"/>
<circle cx="222.6" cy="556.2" r="0.7" fill="#c3c6ec" opacity="0.33"/>
<circle cx="222.3" cy="552.7" r="0.7" fill="#c3c6ec" opacity="0.33"/>
<circle cx="219.2" cy="551.4" r="0.7" fill="#c3c6ec" opacity="0.33"/>
<circle cx="226.2" cy="550.6" r="0.7" fill="#c3c6ec" opacity="0.33"/>
<circle cx="225.9" cy="551.2" r="0.7" fill="#c3c6ec" opacity="0.33"/>
<circle cx="230.5" cy="548.9" r="0.7" fill="#c3c6ec" opacity="0.33"/>
<circle cx="225.5" cy="554.2" r="0.7" fill="#c3c6ec" opacity="0.33"/>
<circle cx="223.0" cy="553.3" r="0.7" fill="#c3c6ec" opacity="0.33"/>
<circle cx="225.6" cy="553.7" r="0.7" fill="#c3c6ec" opacity="0.33"/>
<circle cx="243.4" cy="550.8" r="0.7" fill="#c3c6ec" opacity="0.33"/>
<circle cx="226.2" cy="550.8" r="0.7" fill="#c3c6ec" opacity="0.33"/>
<circle cx="221.1" cy="556.7" r="0.7" fill="#c3c6ec" opacity="0.33"/>
<circle cx="232.3" cy="552.8" r="0.7" fill="#c3c6ec" opacity="0.33"/>
<circle cx="219.9" cy="558.2" r="0.7" fill="#c3c6ec" opacity="0.33"/>
<circle cx="233.9" cy="551.8" r="0.7" fill="#c3c6ec" opacity="0.33"/>
<circle cx="222.4" cy="552.5" r="0.7" fill="#c3c6ec" opacity="0.33"/>
<circle cx="234.4" cy="551.4" r="0.7" fill="#c3c6ec" opacity="0.33"/>
<circle cx="220.5" cy="551.0" r="0.7" fill="#c3c6ec" opacity="0.33"/>
<circle cx="212.9" cy="553.6" r="0.7" fill="#c3c6ec" opacity="0.33"/>
<circle cx="225.4" cy="554.6" r="0.7" fill="#c3c6ec" opacity="0.33"/>
<circle cx="226.2" cy="551.8" r="0.6" fill="#9aa0dc" opacity="0.35"/>
<circle cx="225.6" cy="548.5" r="0.6" fill="#9aa0dc" opacity="0.35"/>
<circle cx="225.4" cy="551.6" r="0.6" fill="#9aa0dc" opacity="0.35"/>
<circle cx="228.5" cy="552.1" r="0.6" fill="#9aa0dc" opacity="0.35"/>
<circle cx="222.6" cy="551.0" r="0.6" fill="#9aa0dc" opacity="0.35"/>
<circle cx="226.1" cy="553.1" r="0.6" fill="#9aa0dc" opacity="0.35"/>
<circle cx="223.6" cy="548.2" r="0.6" fill="#9aa0dc" opacity="0.35"/>
<circle cx="223.3" cy="550.5" r="0.6" fill="#9aa0dc" opacity="0.35"/>
<circle cx="229.5" cy="552.0" r="0.6" fill="#9aa0dc" opacity="0.35"/>
<circle cx="221.0" cy="552.4" r="0.6" fill="#9aa0dc" opacity="0.35"/>
<circle cx="230.1" cy="552.0" r="0.6" fill="#9aa0dc" opacity="0.35"/>
<circle cx="222.1" cy="553.6" r="0.6" fill="#9aa0dc" opacity="0.35"/>
<circle cx="227.3" cy="549.6" r="0.6" fill="#9aa0dc" opacity="0.35"/>
<circle cx="231.6" cy="551.3" r="0.6" fill="#9aa0dc" opacity="0.35"/>
<circle cx="219.0" cy="551.5" r="0.6" fill="#9aa0dc" opacity="0.35"/>
<circle cx="224.8" cy="552.0" r="0.6" fill="#9aa0dc" opacity="0.35"/>
<circle cx="226.4" cy="549.7" r="0.6" fill="#9aa0dc" opacity="0.35"/>
<circle cx="226.5" cy="552.3" r="0.6" fill="#9aa0dc" opacity="0.35"/>
<circle cx="224.8" cy="550.9" r="0.6" fill="#9aa0dc" opacity="0.35"/>
<circle cx="221.8" cy="550.8" r="0.6" fill="#9aa0dc" opacity="0.35"/>
<circle cx="223.5" cy="550.9" r="0.6" fill="#9aa0dc" opacity="0.35"/>
<circle cx="223.8" cy="548.1" r="0.6" fill="#9aa0dc" opacity="0.35"/>
<circle cx="226.8" cy="549.9" r="0.6" fill="#9aa0dc" opacity="0.35"/>
<circle cx="224.3" cy="549.5" r="0.6" fill="#9aa0dc" opacity="0.35"/>
<circle cx="225.0" cy="550.4" r="0.6" fill="#9aa0dc" opacity="0.35"/>
<circle cx="230.2" cy="548.2" r="0.6" fill="#9aa0dc" opacity="0.35"/>
<circle cx="221.4" cy="551.1" r="0.6" fill="#9aa0dc" opacity="0.35"/>
<circle cx="221.3" cy="550.6" r="0.6" fill="#9aa0dc" opacity="0.35"/>
<circle cx="232.8" cy="551.5" r="0.6" fill="#9aa0dc" opacity="0.35"/>
<circle cx="225.3" cy="552.0" r="0.6" fill="#9aa0dc" opacity="0.35"/>
<circle cx="226.8" cy="551.7" r="0.6" fill="#9aa0dc" opacity="0.35"/>
<circle cx="225.3" cy="550.6" r="0.6" fill="#9aa0dc" opacity="0.35"/>
<circle cx="228.8" cy="552.4" r="0.6" fill="#9aa0dc" opacity="0.35"/>
<circle cx="225.2" cy="551.3" r="0.6" fill="#9aa0dc" opacity="0.35"/>
<circle cx="221.8" cy="549.8" r="0.6" fill="#9aa0dc" opacity="0.35"/>
<circle cx="220.4" cy="550.6" r="0.6" fill="#9aa0dc" opacity="0.35"/>
<circle cx="229.8" cy="552.9" r="0.6" fill="#9aa0dc" opacity="0.35"/>
<circle cx="224.8" cy="550.5" r="0.6" fill="#9aa0dc" opacity="0.35"/>
<circle cx="227.5" cy="552.3" r="0.6" fill="#9aa0dc" opacity="0.35"/>
<circle cx="222.6" cy="551.0" r="0.6" fill="#9aa0dc" opacity="0.35"/>
<circle cx="227.2" cy="552.1" r="0.6" fill="#9aa0dc" opacity="0.35"/>
<circle cx="227.6" cy="552.6" r="0.6" fill="#9aa0dc" opacity="0.35"/>
<circle cx="226.1" cy="550.3" r="0.6" fill="#9aa0dc" opacity="0.35"/>
<circle cx="220.5" cy="549.8" r="0.6" fill="#9aa0dc" opacity="0.35"/>
<circle cx="227.9" cy="553.6" r="0.6" fill="#9aa0dc" opacity="0.35"/>
<circle cx="227.8" cy="550.4" r="0.6" fill="#9aa0dc" opacity="0.35"/>
<circle cx="220.0" cy="552.5" r="0.6" fill="#9aa0dc" opacity="0.35"/>
<circle cx="222.0" cy="550.7" r="0.6" fill="#9aa0dc" opacity="0.35"/>
<circle cx="229.8" cy="550.0" r="0.6" fill="#9aa0dc" opacity="0.35"/>
<circle cx="223.8" cy="552.0" r="0.6" fill="#9aa0dc" opacity="0.35"/>
<circle cx="239.7" cy="553.5" r="0.6" fill="#c3c6ec" opacity="0.3"/>
<circle cx="253.8" cy="551.0" r="0.6" fill="#c3c6ec" opacity="0.3"/>
<circle cx="252.4" cy="549.4" r="0.6" fill="#c3c6ec" opacity="0.3"/>
<circle cx="244.1" cy="550.9" r="0.6" fill="#c3c6ec" opacity="0.3"/>
<circle cx="228.0" cy="550.9" r="0.6" fill="#c3c6ec" opacity="0.3"/>
<circle cx="247.2" cy="550.8" r="0.6" fill="#c3c6ec" opacity="0.3"/>
<circle cx="235.5" cy="553.0" r="0.6" fill="#c3c6ec" opacity="0.3"/>
<circle cx="238.1" cy="553.5" r="0.6" fill="#c3c6ec" opacity="0.3"/>
<circle cx="248.8" cy="552.5" r="0.6" fill="#c3c6ec" opacity="0.3"/>
<circle cx="241.8" cy="551.5" r="0.6" fill="#c3c6ec" opacity="0.3"/>
<circle cx="253.2" cy="556.0" r="0.6" fill="#c3c6ec" opacity="0.3"/>
<circle cx="245.3" cy="546.4" r="0.6" fill="#c3c6ec" opacity="0.3"/>
<circle cx="235.7" cy="548.5" r="0.6" fill="#c3c6ec" opacity="0.3"/>
<circle cx="252.3" cy="548.5" r="0.6" fill="#c3c6ec" opacity="0.3"/>
<circle cx="251.4" cy="552.2" r="0.6" fill="#c3c6ec" opacity="0.3"/>
<circle cx="242.1" cy="554.8" r="0.6" fill="#c3c6ec" opacity="0.3"/>
<circle cx="241.9" cy="554.2" r="0.6" fill="#c3c6ec" opacity="0.3"/>
<circle cx="250.4" cy="550.1" r="0.6" fill="#c3c6ec" opacity="0.3"/>
<circle cx="243.0" cy="554.2" r="0.6" fill="#c3c6ec" opacity="0.3"/>
<circle cx="229.5" cy="553.7" r="0.6" fill="#c3c6ec" opacity="0.3"/>
<circle cx="241.8" cy="553.3" r="0.6" fill="#c3c6ec" opacity="0.3"/>
<circle cx="241.2" cy="550.6" r="0.6" fill="#c3c6ec" opacity="0.3"/>
<circle cx="230.6" cy="548.4" r="0.6" fill="#c3c6ec" opacity="0.3"/>
<circle cx="238.3" cy="551.3" r="0.6" fill="#c3c6ec" opacity="0.3"/>
<circle cx="235.8" cy="552.1" r="0.6" fill="#c3c6ec" opacity="0.3"/>
<circle cx="244.8" cy="552.4" r="0.6" fill="#c3c6ec" opacity="0.3"/>
<circle cx="246.4" cy="552.8" r="0.6" fill="#c3c6ec" opacity="0.3"/>
<circle cx="238.9" cy="552.5" r="0.6" fill="#c3c6ec" opacity="0.3"/>
<circle cx="243.1" cy="552.4" r="0.6" fill="#c3c6ec" opacity="0.3"/>
<circle cx="232.0" cy="550.3" r="0.6" fill="#c3c6ec" opacity="0.3"/>
<circle cx="237.0" cy="549.7" r="0.6" fill="#c3c6ec" opacity="0.3"/>
<circle cx="240.6" cy="550.3" r="0.6" fill="#c3c6ec" opacity="0.3"/>
<circle cx="241.4" cy="549.1" r="0.6" fill="#c3c6ec" opacity="0.3"/>
<circle cx="235.1" cy="550.6" r="0.6" fill="#c3c6ec" opacity="0.3"/>
<circle cx="237.9" cy="551.9" r="0.6" fill="#c3c6ec" opacity="0.3"/>
<circle cx="243.2" cy="553.1" r="0.6" fill="#c3c6ec" opacity="0.3"/>
<circle cx="237.1" cy="551.3" r="0.6" fill="#c3c6ec" opacity="0.3"/>
<circle cx="242.2" cy="551.3" r="0.6" fill="#c3c6ec" opacity="0.3"/>
<circle cx="235.8" cy="555.0" r="0.6" fill="#c3c6ec" opacity="0.3"/>
<circle cx="243.6" cy="554.3" r="0.6" fill="#c3c6ec" opacity="0.3"/>
<circle cx="238.1" cy="551.6" r="0.6" fill="#c3c6ec" opacity="0.3"/>
<circle cx="248.0" cy="551.4" r="0.6" fill="#c3c6ec" opacity="0.3"/>
<circle cx="243.5" cy="550.2" r="0.6" fill="#c3c6ec" opacity="0.3"/>
<circle cx="254.1" cy="553.3" r="0.6" fill="#c3c6ec" opacity="0.3"/>
<circle cx="241.0" cy="551.8" r="0.6" fill="#c3c6ec" opacity="0.3"/>
<circle cx="251.1" cy="538.6" r="0.55" fill="#9aa0dc" opacity="0.55"/>
<circle cx="251.8" cy="535.9" r="0.55" fill="#9aa0dc" opacity="0.55"/>
<circle cx="252.2" cy="542.7" r="0.55" fill="#9aa0dc" opacity="0.55"/>
<circle cx="251.8" cy="535.7" r="0.55" fill="#9aa0dc" opacity="0.55"/>
<circle cx="251.4" cy="538.8" r="0.55" fill="#9aa0dc" opacity="0.55"/>
<circle cx="251.2" cy="534.2" r="0.55" fill="#9aa0dc" opacity="0.55"/>
<circle cx="252.8" cy="533.5" r="0.55" fill="#9aa0dc" opacity="0.55"/>
<circle cx="250.3" cy="536.6" r="0.55" fill="#9aa0dc" opacity="0.55"/>
<circle cx="251.7" cy="533.1" r="0.55" fill="#9aa0dc" opacity="0.55"/>
<circle cx="250.2" cy="537.6" r="0.55" fill="#9aa0dc" opacity="0.55"/>
<circle cx="251.3" cy="532.1" r="0.55" fill="#9aa0dc" opacity="0.55"/>
<circle cx="253.1" cy="540.3" r="0.55" fill="#9aa0dc" opacity="0.55"/>
<circle cx="253.3" cy="537.1" r="0.55" fill="#9aa0dc" opacity="0.55"/>
<circle cx="250.9" cy="535.6" r="0.55" fill="#9aa0dc" opacity="0.55"/>
<circle cx="252.9" cy="536.3" r="0.55" fill="#9aa0dc" opacity="0.55"/>
<circle cx="250.4" cy="539.0" r="0.55" fill="#9aa0dc" opacity="0.55"/>
<circle cx="252.7" cy="534.7" r="0.55" fill="#9aa0dc" opacity="0.55"/>
<circle cx="251.1" cy="538.7" r="0.55" fill="#9aa0dc" opacity="0.55"/>
<circle cx="250.4" cy="538.0" r="0.55" fill="#9aa0dc" opacity="0.55"/>
<circle cx="251.6" cy="539.2" r="0.55" fill="#9aa0dc" opacity="0.55"/>
<circle cx="251.0" cy="536.2" r="0.55" fill="#9aa0dc" opacity="0.55"/>
<circle cx="251.1" cy="540.6" r="0.55" fill="#9aa0dc" opacity="0.55"/>
<circle cx="252.4" cy="534.8" r="0.55" fill="#9aa0dc" opacity="0.55"/>
<circle cx="251.3" cy="537.5" r="0.55" fill="#9aa0dc" opacity="0.55"/>
<circle cx="251.6" cy="538.2" r="0.55" fill="#9aa0dc" opacity="0.55"/>
<circle cx="250.7" cy="535.6" r="0.55" fill="#9aa0dc" opacity="0.55"/>
<circle cx="253.5" cy="539.7" r="0.55" fill="#9aa0dc" opacity="0.55"/>
<circle cx="251.0" cy="541.0" r="0.55" fill="#9aa0dc" opacity="0.55"/>
<circle cx="253.0" cy="532.1" r="0.55" fill="#9aa0dc" opacity="0.55"/>
<circle cx="252.1" cy="539.3" r="0.55" fill="#9aa0dc" opacity="0.55"/>
<circle cx="251.9" cy="536.8" r="0.55" fill="#9aa0dc" opacity="0.55"/>
<circle cx="252.9" cy="537.9" r="0.55" fill="#9aa0dc" opacity="0.55"/>
<circle cx="249.8" cy="537.1" r="0.55" fill="#9aa0dc" opacity="0.55"/>
<circle cx="252.0" cy="534.2" r="0.55" fill="#9aa0dc" opacity="0.55"/>
<circle cx="252.9" cy="537.0" r="0.55" fill="#9aa0dc" opacity="0.55"/>
<circle cx="250.4" cy="536.6" r="0.55" fill="#9aa0dc" opacity="0.55"/>
<circle cx="251.1" cy="538.4" r="0.55" fill="#9aa0dc" opacity="0.55"/>
<circle cx="251.1" cy="535.8" r="0.55" fill="#9aa0dc" opacity="0.55"/>
<circle cx="253.1" cy="535.9" r="0.55" fill="#9aa0dc" opacity="0.55"/>
<circle cx="251.4" cy="536.8" r="0.55" fill="#9aa0dc" opacity="0.55"/>
<circle cx="251.2" cy="538.7" r="0.55" fill="#9aa0dc" opacity="0.55"/>
<circle cx="250.7" cy="535.9" r="0.55" fill="#9aa0dc" opacity="0.55"/>
<circle cx="253.5" cy="532.9" r="0.55" fill="#9aa0dc" opacity="0.55"/>
<circle cx="250.8" cy="537.2" r="0.55" fill="#9aa0dc" opacity="0.55"/>
<circle cx="249.7" cy="531.6" r="0.55" fill="#9aa0dc" opacity="0.55"/>
<circle cx="251.4" cy="537.6" r="0.5" fill="#4a56b0" opacity="0.6"/>
<circle cx="251.9" cy="535.6" r="0.5" fill="#4a56b0" opacity="0.6"/>
<circle cx="251.1" cy="539.6" r="0.5" fill="#4a56b0" opacity="0.6"/>
<circle cx="252.1" cy="534.9" r="0.5" fill="#4a56b0" opacity="0.6"/>
<circle cx="252.8" cy="538.1" r="0.5" fill="#4a56b0" opacity="0.6"/>
<circle cx="251.4" cy="534.1" r="0.5" fill="#4a56b0" opacity="0.6"/>
<circle cx="253.1" cy="536.1" r="0.5" fill="#4a56b0" opacity="0.6"/>
<circle cx="251.5" cy="536.7" r="0.5" fill="#4a56b0" opacity="0.6"/>
<circle cx="251.6" cy="537.8" r="0.5" fill="#4a56b0" opacity="0.6"/>
<circle cx="251.4" cy="536.3" r="0.5" fill="#4a56b0" opacity="0.6"/>
<circle cx="252.6" cy="550.9" r="0.55" fill="#c3c6ec" opacity="0.4"/>
<circle cx="251.3" cy="545.3" r="0.55" fill="#c3c6ec" opacity="0.4"/>
<circle cx="253.4" cy="546.8" r="0.55" fill="#c3c6ec" opacity="0.4"/>
<circle cx="253.0" cy="547.8" r="0.55" fill="#c3c6ec" opacity="0.4"/>
<circle cx="252.2" cy="544.5" r="0.55" fill="#c3c6ec" opacity="0.4"/>
<circle cx="252.0" cy="546.8" r="0.55" fill="#c3c6ec" opacity="0.4"/>
<circle cx="251.4" cy="552.4" r="0.55" fill="#c3c6ec" opacity="0.4"/>
<circle cx="250.7" cy="544.7" r="0.55" fill="#c3c6ec" opacity="0.4"/>
<circle cx="252.4" cy="550.3" r="0.55" fill="#c3c6ec" opacity="0.4"/>
<circle cx="251.3" cy="546.2" r="0.55" fill="#c3c6ec" opacity="0.4"/>
<circle cx="251.3" cy="544.1" r="0.55" fill="#c3c6ec" opacity="0.4"/>
<circle cx="253.3" cy="546.9" r="0.55" fill="#c3c6ec" opacity="0.4"/>
<circle cx="251.6" cy="547.8" r="0.55" fill="#c3c6ec" opacity="0.4"/>
<circle cx="252.9" cy="551.2" r="0.55" fill="#c3c6ec" opacity="0.4"/>
<circle cx="228.5" cy="561.1" r="0.7" fill="#dcdff4" opacity="0.3"/>
<circle cx="230.1" cy="564.3" r="0.7" fill="#dcdff4" opacity="0.3"/>
<circle cx="230.3" cy="555.1" r="0.7" fill="#dcdff4" opacity="0.3"/>
<circle cx="226.9" cy="558.7" r="0.7" fill="#dcdff4" opacity="0.3"/>
<circle cx="238.0" cy="560.5" r="0.7" fill="#dcdff4" opacity="0.3"/>
<circle cx="221.1" cy="565.7" r="0.7" fill="#dcdff4" opacity="0.3"/>
<circle cx="223.4" cy="561.9" r="0.7" fill="#dcdff4" opacity="0.3"/>
<circle cx="225.7" cy="561.8" r="0.7" fill="#dcdff4" opacity="0.3"/>
<circle cx="233.6" cy="557.0" r="0.7" fill="#dcdff4" opacity="0.3"/>
<circle cx="221.5" cy="563.6" r="0.7" fill="#dcdff4" opacity="0.3"/>
<circle cx="224.2" cy="560.9" r="0.7" fill="#dcdff4" opacity="0.3"/>
<circle cx="233.2" cy="556.6" r="0.7" fill="#dcdff4" opacity="0.3"/>
<circle cx="233.3" cy="558.9" r="0.7" fill="#dcdff4" opacity="0.3"/>
<circle cx="222.1" cy="557.9" r="0.7" fill="#dcdff4" opacity="0.3"/>
<circle cx="241.6" cy="562.5" r="0.7" fill="#dcdff4" opacity="0.3"/>
<circle cx="229.7" cy="557.2" r="0.7" fill="#dcdff4" opacity="0.3"/>
<circle cx="236.4" cy="555.6" r="0.7" fill="#dcdff4" opacity="0.3"/>
<circle cx="222.9" cy="565.1" r="0.7" fill="#dcdff4" opacity="0.3"/>
<circle cx="233.9" cy="558.8" r="0.7" fill="#dcdff4" opacity="0.3"/>
<circle cx="231.0" cy="559.1" r="0.7" fill="#dcdff4" opacity="0.3"/>
<circle cx="217.4" cy="564.1" r="0.7" fill="#dcdff4" opacity="0.3"/>
<circle cx="227.1" cy="563.4" r="0.7" fill="#dcdff4" opacity="0.3"/>
<circle cx="231.7" cy="556.8" r="0.7" fill="#dcdff4" opacity="0.3"/>
<circle cx="227.4" cy="557.1" r="0.7" fill="#dcdff4" opacity="0.3"/>
<circle cx="229.1" cy="563.3" r="0.7" fill="#dcdff4" opacity="0.3"/>
<circle cx="233.2" cy="569.8" r="0.7" fill="#dcdff4" opacity="0.3"/>
<circle cx="223.7" cy="565.0" r="0.7" fill="#dcdff4" opacity="0.3"/>
<circle cx="232.5" cy="563.3" r="0.7" fill="#dcdff4" opacity="0.3"/>
<circle cx="220.6" cy="562.7" r="0.7" fill="#dcdff4" opacity="0.3"/>
<circle cx="229.3" cy="560.8" r="0.7" fill="#dcdff4" opacity="0.3"/>
<circle cx="229.0" cy="556.7" r="0.7" fill="#dcdff4" opacity="0.3"/>
<circle cx="226.1" cy="562.6" r="0.7" fill="#dcdff4" opacity="0.3"/>
<circle cx="224.9" cy="562.9" r="0.7" fill="#dcdff4" opacity="0.3"/>
<circle cx="236.1" cy="561.3" r="0.7" fill="#dcdff4" opacity="0.3"/>
<circle cx="223.8" cy="562.0" r="0.7" fill="#dcdff4" opacity="0.3"/>
<circle cx="225.2" cy="558.3" r="0.7" fill="#dcdff4" opacity="0.3"/>
<circle cx="224.4" cy="567.5" r="0.7" fill="#dcdff4" opacity="0.3"/>
<circle cx="231.3" cy="563.1" r="0.7" fill="#dcdff4" opacity="0.3"/>
<circle cx="232.5" cy="553.8" r="0.7" fill="#dcdff4" opacity="0.3"/>
<circle cx="229.5" cy="563.1" r="0.7" fill="#dcdff4" opacity="0.3"/>
</g>
<rect x="212.20" y="524.60" width="49.00" height="48.20" fill="none" stroke="#111" stroke-width="1.1"/>
<rect x="246.50" y="531.60" width="9.60" height="11.60" fill="none" stroke="#e31ad6" stroke-width="1.35"/>
<text x="210.00" y="530.30" font-size="3.8" text-anchor="end" fill="#333">10<tspan font-size="2.4" dy="-1.7" dx="0.1">5</tspan></text>
<text x="210.00" y="541.30" font-size="3.8" text-anchor="end" fill="#333">10<tspan font-size="2.4" dy="-1.7" dx="0.1">4</tspan></text>
<text x="210.00" y="552.10" font-size="3.8" text-anchor="end" fill="#333">10<tspan font-size="2.4" dy="-1.7" dx="0.1">3</tspan></text>
<text x="210.00" y="562.10" font-size="3.8" text-anchor="end" fill="#333">10<tspan font-size="2.4" dy="-1.7" dx="0.1">2</tspan></text>
<text x="209.40" y="568.90" font-size="3.8" text-anchor="end" fill="#333">0</text>
<text x="217.20" y="578.40" font-size="3.8" text-anchor="start" fill="#333">0</text>
<text x="221.20" y="578.40" font-size="3.8" text-anchor="start" fill="#333">10<tspan font-size="2.4" dy="-1.7" dx="0.1">2</tspan></text>
<text x="234.20" y="578.40" font-size="3.8" text-anchor="start" fill="#333">10<tspan font-size="2.4" dy="-1.7" dx="0.1">3</tspan></text>
<text x="245.70" y="578.40" font-size="3.8" text-anchor="start" fill="#333">10<tspan font-size="2.4" dy="-1.7" dx="0.1">4</tspan></text>
<text x="256.50" y="578.40" font-size="3.8" text-anchor="start" fill="#333">10<tspan font-size="2.4" dy="-1.7" dx="0.1">5</tspan></text>
<text x="235.50" y="587.40" font-size="7.4" text-anchor="middle" fill="#333">CD4</text>
<text transform="translate(202.0,549.7) rotate(-90)" font-size="6.4" text-anchor="middle" fill="#333">CD8a</text>
<line x1="154.20" y1="522.20" x2="252.00" y2="522.20" stroke="#777" stroke-width="0.7"/>
<text x="203.00" y="519.30" font-size="7.2" text-anchor="middle" fill="#333">PI<tspan font-size="5" dy="-2.6" dx="0.2">-</tspan><tspan dy="2.6"> NK1.1</tspan><tspan font-size="5" dy="-2.6" dx="0.2">-</tspan></text>
</svg>
</body></html>
